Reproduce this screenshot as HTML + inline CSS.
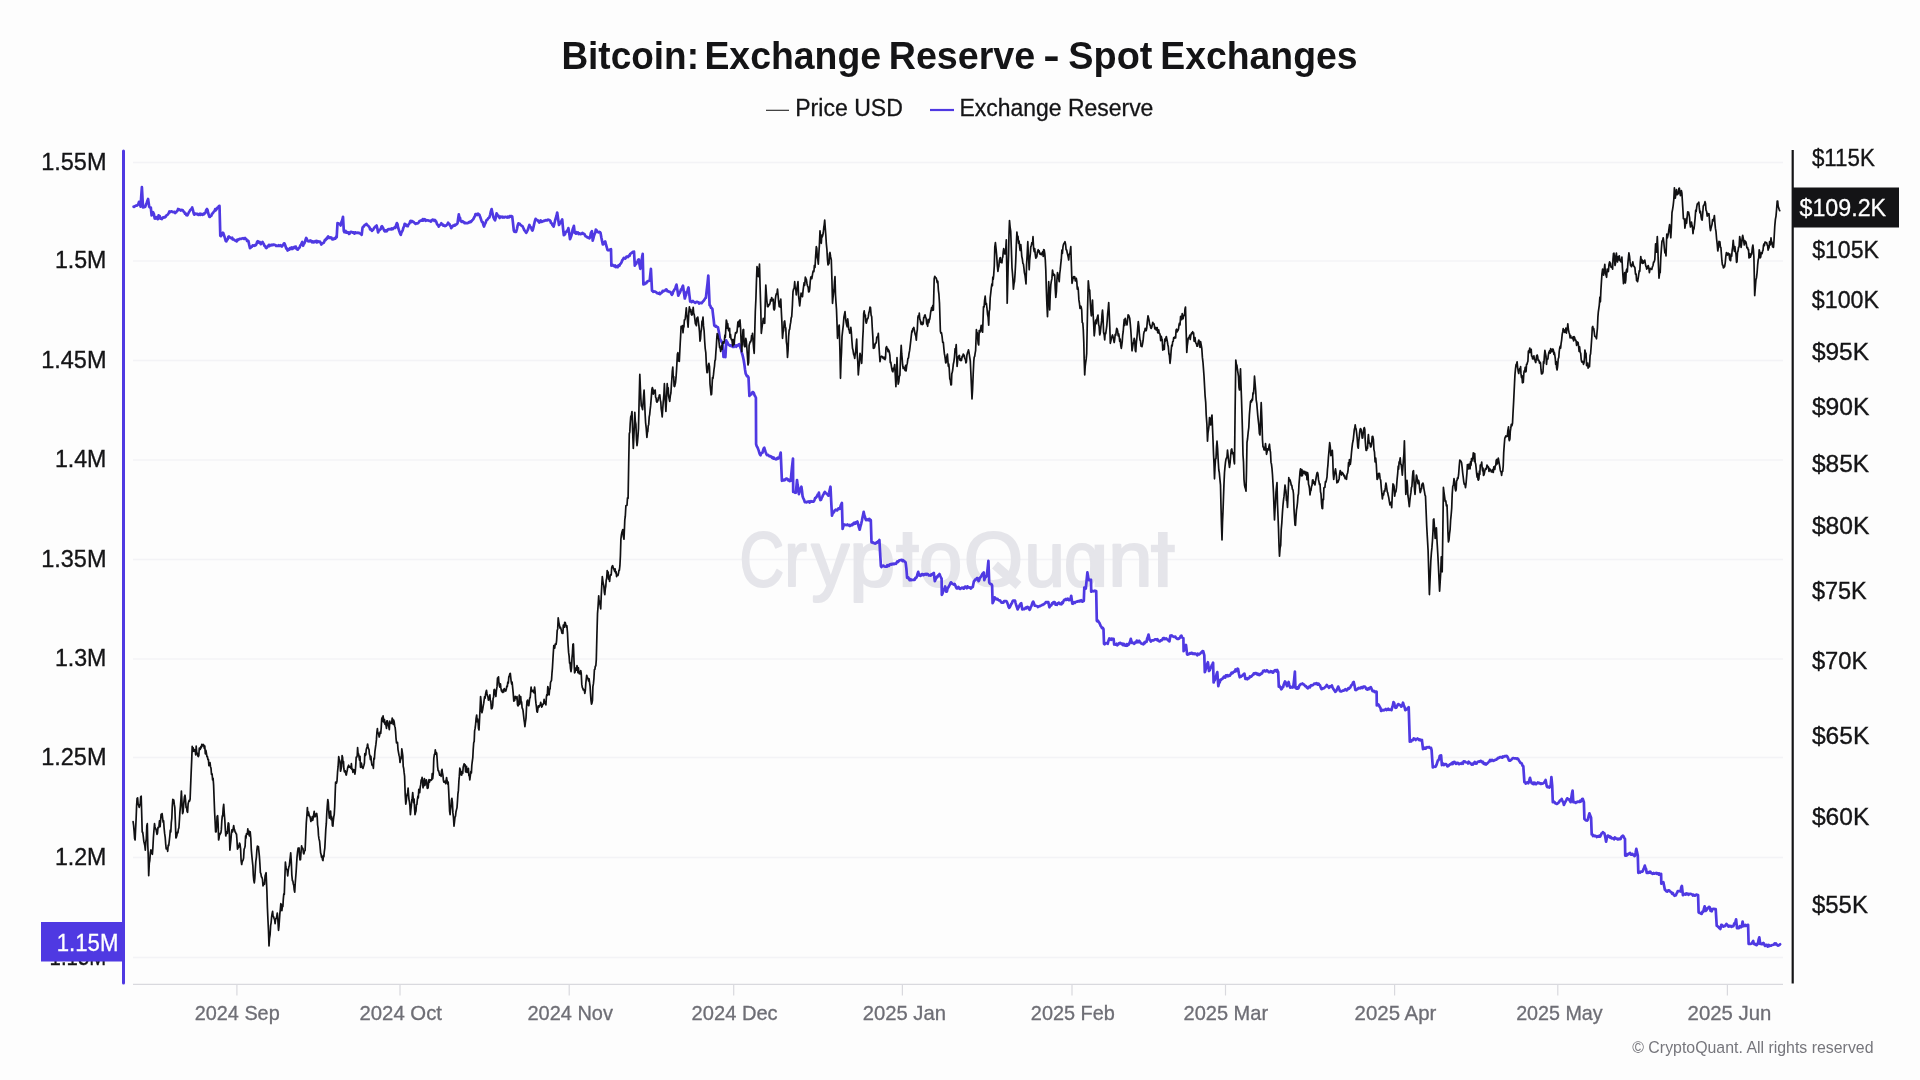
<!DOCTYPE html>
<html><head><meta charset="utf-8"><title>Bitcoin: Exchange Reserve - Spot Exchanges</title>
<style>
html,body{margin:0;padding:0;background:#fdfdfd;width:1920px;height:1080px;overflow:hidden;}
svg{display:block;font-family:"Liberation Sans",sans-serif;will-change:transform;}
</style></head><body>
<svg width="1920" height="1080" viewBox="0 0 1920 1080">
<rect x="0" y="0" width="1920" height="1080" fill="#fdfdfd"/>

<text x="561.43" y="69.1" font-size="38.2" font-weight="bold" fill="#141416" textLength="137.53" lengthAdjust="spacingAndGlyphs">Bitcoin:</text>
<text x="704.40" y="69.1" font-size="38.2" font-weight="bold" fill="#141416" textLength="176.68" lengthAdjust="spacingAndGlyphs">Exchange</text>
<text x="888.78" y="69.1" font-size="38.2" font-weight="bold" fill="#141416" textLength="146.40" lengthAdjust="spacingAndGlyphs">Reserve</text>
<text x="1043.38" y="69.1" font-size="38.2" font-weight="bold" fill="#141416" textLength="16.39" lengthAdjust="spacingAndGlyphs">-</text>
<text x="1068.31" y="69.1" font-size="38.2" font-weight="bold" fill="#141416" textLength="84.05" lengthAdjust="spacingAndGlyphs">Spot</text>
<text x="1160.30" y="69.1" font-size="38.2" font-weight="bold" fill="#141416" textLength="197.23" lengthAdjust="spacingAndGlyphs">Exchanges</text>
<line x1="766" y1="110.3" x2="789" y2="110.3" stroke="#222" stroke-width="1.1"/>
<text x="795.26" y="116.3" font-size="24.2" fill="#141416" textLength="107.59" lengthAdjust="spacingAndGlyphs" stroke="#141416" stroke-width="0.3">Price USD</text>
<line x1="930" y1="110" x2="954" y2="110" stroke="#4f39e2" stroke-width="2.2"/>
<text x="959.52" y="116.4" font-size="24.2" fill="#141416" textLength="193.85" lengthAdjust="spacingAndGlyphs" stroke="#141416" stroke-width="0.3">Exchange Reserve</text>
<line x1="133" y1="162.5" x2="1783" y2="162.5" stroke="#f3f3f6" stroke-width="1.4"/>
<line x1="133" y1="261.0" x2="1783" y2="261.0" stroke="#f3f3f6" stroke-width="1.4"/>
<line x1="133" y1="360.5" x2="1783" y2="360.5" stroke="#f3f3f6" stroke-width="1.4"/>
<line x1="133" y1="460.0" x2="1783" y2="460.0" stroke="#f3f3f6" stroke-width="1.4"/>
<line x1="133" y1="559.5" x2="1783" y2="559.5" stroke="#f3f3f6" stroke-width="1.4"/>
<line x1="133" y1="659.0" x2="1783" y2="659.0" stroke="#f3f3f6" stroke-width="1.4"/>
<line x1="133" y1="757.5" x2="1783" y2="757.5" stroke="#f3f3f6" stroke-width="1.4"/>
<line x1="133" y1="857.5" x2="1783" y2="857.5" stroke="#f3f3f6" stroke-width="1.4"/>
<line x1="133" y1="957.5" x2="1783" y2="957.5" stroke="#f3f3f6" stroke-width="1.4"/>
<defs><clipPath id="qclip" clipPathUnits="userSpaceOnUse"><rect x="900" y="500" width="200" height="87.2"/></clipPath></defs>
<g fill="#e5e5ea" stroke="#e5e5ea" stroke-width="2.2" stroke-linejoin="round">
<text x="739.56" y="586.0" font-size="77.0" textLength="44.59" lengthAdjust="spacingAndGlyphs">C</text>
<text x="784.28" y="586.0" font-size="77.0" textLength="22.64" lengthAdjust="spacingAndGlyphs">r</text>
<text x="811.42" y="586.0" font-size="77.0" textLength="37.63" lengthAdjust="spacingAndGlyphs">y</text>
<text x="849.35" y="586.0" font-size="77.0" textLength="46.13" lengthAdjust="spacingAndGlyphs">p</text>
<rect x="902.7" y="532" width="9.6" height="55.1" stroke="none"/>
<rect x="896.1" y="544.8" width="22.8" height="7.4" stroke="none"/>
<text x="919.14" y="586.0" font-size="77.0" textLength="43.23" lengthAdjust="spacingAndGlyphs">o</text>
<text x="963.91" y="586.0" font-size="77.0" textLength="58.91" lengthAdjust="spacingAndGlyphs" clip-path="url(#qclip)">Q</text>
<text x="1024.39" y="586.0" font-size="77.0" textLength="40.32" lengthAdjust="spacingAndGlyphs">u</text>
<text x="1064.23" y="586.0" font-size="77.0" textLength="35.34" lengthAdjust="spacingAndGlyphs">o</text>
<rect x="1094.6" y="544.6" width="9.5" height="42.5" stroke="none"/>
<text x="1108.32" y="586.0" font-size="77.0" textLength="44.25" lengthAdjust="spacingAndGlyphs">n</text>
<rect x="1158.0" y="532" width="9.6" height="55.1" stroke="none"/>
<rect x="1150.9" y="544.8" width="23.9" height="7.4" stroke="none"/>
<line x1="995" y1="565" x2="1018.5" y2="585.5" stroke-width="9" stroke-linecap="butt"/>
</g>
<line x1="133" y1="984.4" x2="1783" y2="984.4" stroke="#d9d9de" stroke-width="1.3"/>
<line x1="236.9" y1="985" x2="236.9" y2="995.5" stroke="#d9d9de" stroke-width="1.2"/>
<text x="194.75" y="1020.0" font-size="19.8" fill="#6e6e75" textLength="84.93" lengthAdjust="spacingAndGlyphs" stroke="#6e6e75" stroke-width="0.3">2024 Sep</text>
<line x1="400" y1="985" x2="400" y2="995.5" stroke="#d9d9de" stroke-width="1.2"/>
<text x="359.53" y="1020.0" font-size="19.8" fill="#6e6e75" textLength="82.47" lengthAdjust="spacingAndGlyphs" stroke="#6e6e75" stroke-width="0.3">2024 Oct</text>
<line x1="569.2" y1="985" x2="569.2" y2="995.5" stroke="#d9d9de" stroke-width="1.2"/>
<text x="527.45" y="1020.0" font-size="19.8" fill="#6e6e75" textLength="85.47" lengthAdjust="spacingAndGlyphs" stroke="#6e6e75" stroke-width="0.3">2024 Nov</text>
<line x1="733.7" y1="985" x2="733.7" y2="995.5" stroke="#d9d9de" stroke-width="1.2"/>
<text x="691.64" y="1020.0" font-size="19.8" fill="#6e6e75" textLength="86.04" lengthAdjust="spacingAndGlyphs" stroke="#6e6e75" stroke-width="0.3">2024 Dec</text>
<line x1="902.4" y1="985" x2="902.4" y2="995.5" stroke="#d9d9de" stroke-width="1.2"/>
<text x="862.73" y="1020.0" font-size="19.8" fill="#6e6e75" textLength="83.23" lengthAdjust="spacingAndGlyphs" stroke="#6e6e75" stroke-width="0.3">2025 Jan</text>
<line x1="1072" y1="985" x2="1072" y2="995.5" stroke="#d9d9de" stroke-width="1.2"/>
<text x="1030.85" y="1020.0" font-size="19.8" fill="#6e6e75" textLength="84.04" lengthAdjust="spacingAndGlyphs" stroke="#6e6e75" stroke-width="0.3">2025 Feb</text>
<line x1="1225.5" y1="985" x2="1225.5" y2="995.5" stroke="#d9d9de" stroke-width="1.2"/>
<text x="1183.54" y="1020.0" font-size="19.8" fill="#6e6e75" textLength="84.54" lengthAdjust="spacingAndGlyphs" stroke="#6e6e75" stroke-width="0.3">2025 Mar</text>
<line x1="1394.6" y1="985" x2="1394.6" y2="995.5" stroke="#d9d9de" stroke-width="1.2"/>
<text x="1354.64" y="1020.0" font-size="19.8" fill="#6e6e75" textLength="81.75" lengthAdjust="spacingAndGlyphs" stroke="#6e6e75" stroke-width="0.3">2025 Apr</text>
<line x1="1557.8" y1="985" x2="1557.8" y2="995.5" stroke="#d9d9de" stroke-width="1.2"/>
<text x="1516.16" y="1020.0" font-size="19.8" fill="#6e6e75" textLength="86.53" lengthAdjust="spacingAndGlyphs" stroke="#6e6e75" stroke-width="0.3">2025 May</text>
<line x1="1727.4" y1="985" x2="1727.4" y2="995.5" stroke="#d9d9de" stroke-width="1.2"/>
<text x="1687.63" y="1020.0" font-size="19.8" fill="#6e6e75" textLength="83.75" lengthAdjust="spacingAndGlyphs" stroke="#6e6e75" stroke-width="0.3">2025 Jun</text>
<text x="41.19" y="169.8" font-size="24.6" fill="#141416" textLength="65.27" lengthAdjust="spacingAndGlyphs" stroke="#141416" stroke-width="0.35">1.55M</text>
<text x="54.91" y="268.3" font-size="24.6" fill="#141416" textLength="51.52" lengthAdjust="spacingAndGlyphs" stroke="#141416" stroke-width="0.35">1.5M</text>
<text x="41.19" y="367.8" font-size="24.6" fill="#141416" textLength="65.27" lengthAdjust="spacingAndGlyphs" stroke="#141416" stroke-width="0.35">1.45M</text>
<text x="54.91" y="467.3" font-size="24.6" fill="#141416" textLength="51.52" lengthAdjust="spacingAndGlyphs" stroke="#141416" stroke-width="0.35">1.4M</text>
<text x="41.19" y="566.8" font-size="24.6" fill="#141416" textLength="65.27" lengthAdjust="spacingAndGlyphs" stroke="#141416" stroke-width="0.35">1.35M</text>
<text x="54.91" y="666.3" font-size="24.6" fill="#141416" textLength="51.52" lengthAdjust="spacingAndGlyphs" stroke="#141416" stroke-width="0.35">1.3M</text>
<text x="41.19" y="764.8" font-size="24.6" fill="#141416" textLength="65.27" lengthAdjust="spacingAndGlyphs" stroke="#141416" stroke-width="0.35">1.25M</text>
<text x="54.91" y="864.8" font-size="24.6" fill="#141416" textLength="51.52" lengthAdjust="spacingAndGlyphs" stroke="#141416" stroke-width="0.35">1.2M</text>
<text x="49.62" y="964.8" font-size="24.6" fill="#141416" textLength="56.57" lengthAdjust="spacingAndGlyphs" stroke="#141416" stroke-width="0.35">1.15M</text>
<text x="1811.94" y="166.2" font-size="24.6" fill="#141416" textLength="62.93" lengthAdjust="spacingAndGlyphs" stroke="#141416" stroke-width="0.35">$115K</text>
<text x="1812.13" y="258.4" font-size="24.6" fill="#141416" textLength="66.86" lengthAdjust="spacingAndGlyphs" stroke="#141416" stroke-width="0.35">$105K</text>
<text x="1811.83" y="307.8" font-size="24.6" fill="#141416" textLength="67.16" lengthAdjust="spacingAndGlyphs" stroke="#141416" stroke-width="0.35">$100K</text>
<text x="1811.91" y="359.8" font-size="24.6" fill="#141416" textLength="57.09" lengthAdjust="spacingAndGlyphs" stroke="#141416" stroke-width="0.35">$95K</text>
<text x="1811.91" y="414.5" font-size="24.6" fill="#141416" textLength="57.59" lengthAdjust="spacingAndGlyphs" stroke="#141416" stroke-width="0.35">$90K</text>
<text x="1811.91" y="472.4" font-size="24.6" fill="#141416" textLength="57.19" lengthAdjust="spacingAndGlyphs" stroke="#141416" stroke-width="0.35">$85K</text>
<text x="1811.91" y="533.8" font-size="24.6" fill="#141416" textLength="57.59" lengthAdjust="spacingAndGlyphs" stroke="#141416" stroke-width="0.35">$80K</text>
<text x="1811.92" y="599.2" font-size="24.6" fill="#141416" textLength="54.87" lengthAdjust="spacingAndGlyphs" stroke="#141416" stroke-width="0.35">$75K</text>
<text x="1811.92" y="669.1" font-size="24.6" fill="#141416" textLength="55.47" lengthAdjust="spacingAndGlyphs" stroke="#141416" stroke-width="0.35">$70K</text>
<text x="1811.91" y="744.2" font-size="24.6" fill="#141416" textLength="57.39" lengthAdjust="spacingAndGlyphs" stroke="#141416" stroke-width="0.35">$65K</text>
<text x="1811.91" y="825.3" font-size="24.6" fill="#141416" textLength="57.39" lengthAdjust="spacingAndGlyphs" stroke="#141416" stroke-width="0.35">$60K</text>
<text x="1811.92" y="913.4" font-size="24.6" fill="#141416" textLength="55.98" lengthAdjust="spacingAndGlyphs" stroke="#141416" stroke-width="0.35">$55K</text>
<path d="M133.6 206.7L134.2 206.9 134.9 206.2 135.6 205.8 136.2 205.6 136.8 205.7 137.5 205.2 138.3 204.1 139.0 201.9 139.8 202.8 140.6 206.7 141.2 196.8 141.9 187.2 143.0 207.5 143.8 206.8 144.5 207.1 145.3 206.7 146.0 204.4 146.7 203.1 147.4 200.7 148.1 198.9 149.2 206.7 150.0 207.6 150.8 207.5 151.6 215.3 152.3 214.5 153.1 212.2 153.9 214.1 154.7 218.4 155.3 218.6 155.9 218.3 156.6 217.2 157.2 218.3 157.8 219.2 158.6 215.3 159.2 216.4 159.8 216.2 160.4 218.7 161.0 218.4 161.7 219.0 162.3 218.3 163.0 217.4 163.6 217.7 164.3 217.1 164.9 217.3 165.6 216.9 166.2 215.6 166.9 215.2 167.5 214.7 168.1 214.1 168.8 213.0 169.4 211.4 170.0 212.2 170.6 211.5 171.3 211.4 171.9 211.4 172.5 212.0 173.1 212.1 173.8 212.0 174.4 211.8 175.0 213.0 175.6 212.3 176.2 212.2 176.9 211.1 177.5 210.7 178.1 209.0 178.7 209.4 179.4 209.4 180.0 210.0 180.6 210.5 181.2 209.8 181.9 210.2 182.5 210.0 183.1 210.6 183.8 211.9 184.4 212.2 185.0 213.6 185.6 213.4 186.3 215.0 186.9 214.6 187.5 215.3 188.2 213.8 188.8 212.5 189.5 211.4 190.2 210.0 190.9 209.4 191.5 208.9 192.2 207.5 193.0 210.4 193.8 213.8 194.4 214.7 195.0 213.5 195.6 213.5 196.2 214.1 196.9 213.9 197.5 213.8 198.1 214.9 198.7 214.9 199.4 213.9 200.0 213.6 200.6 214.8 201.2 214.2 201.9 213.9 202.5 214.8 203.1 214.5 203.8 214.4 204.4 213.1 205.1 213.2 205.7 211.7 206.3 209.9 207.0 209.0 207.6 210.2 208.2 213.2 208.8 215.0 209.4 216.9 210.1 216.9 210.7 215.8 211.4 215.7 212.0 213.8 212.7 213.3 213.3 212.4 214.0 211.4 214.6 211.1 215.2 209.1 215.8 210.3 216.4 209.5 217.1 208.2 217.7 207.5 218.3 207.3 218.9 206.0 219.5 205.9 220.3 235.6 220.9 236.1 221.5 235.3 222.2 233.3 222.8 232.7 223.4 233.3 224.0 235.3 224.6 237.0 225.2 239.1 225.8 241.1 226.4 241.3 227.0 239.4 227.7 239.4 228.3 237.0 228.9 236.4 229.6 237.5 230.2 237.4 230.9 238.1 231.5 238.4 232.2 237.7 232.8 239.5 233.5 239.5 234.1 239.6 234.8 240.5 235.4 240.6 236.1 240.5 236.7 241.4 237.3 239.6 238.0 240.1 238.7 239.7 239.3 239.0 239.9 238.8 240.6 238.8 241.2 238.9 241.9 238.5 242.5 238.5 243.1 238.2 243.8 238.8 244.4 238.9 245.1 238.0 245.7 239.0 246.4 239.2 247.1 240.9 247.7 240.5 248.4 241.1 249.2 244.9 250.0 248.1 250.7 247.7 251.3 246.9 252.0 246.7 252.7 245.3 253.4 245.6 254.0 245.5 254.7 245.8 255.3 244.8 255.9 245.1 256.6 243.7 257.2 241.7 257.8 241.1 258.4 241.9 259.0 242.6 259.7 242.0 260.3 243.2 260.9 244.2 261.7 243.3 262.5 241.9 263.1 243.0 263.8 244.0 264.4 245.9 265.1 246.1 265.8 247.7 266.4 248.1 267.2 247.3 268.0 246.1 268.8 245.0 269.4 246.2 270.0 245.0 270.6 245.5 271.2 245.4 271.9 244.7 272.5 245.2 273.1 244.6 273.8 244.7 274.4 244.8 275.0 245.0 275.6 245.0 276.2 246.0 276.9 245.8 277.5 246.0 278.1 246.0 278.8 245.2 279.4 245.9 280.0 245.8 280.6 245.2 281.2 245.8 281.9 246.5 282.5 245.7 283.1 244.9 283.8 243.6 284.4 243.4 285.0 244.6 285.6 246.5 286.3 248.7 286.9 248.4 287.5 250.5 288.1 249.8 288.8 249.1 289.4 249.5 290.0 248.2 290.6 247.8 291.2 248.8 291.9 247.5 292.5 248.9 293.1 248.0 293.8 247.3 294.4 246.9 295.1 248.1 295.7 246.6 296.4 248.4 297.0 249.3 297.7 249.7 298.4 248.7 299.0 247.8 299.7 247.3 300.3 245.4 301.0 244.7 301.6 243.3 302.3 241.9 303.1 245.8 303.7 244.1 304.4 243.3 305.0 241.7 305.6 239.5 306.2 238.0 307.0 239.5 307.8 241.1 308.4 240.9 309.0 241.4 309.6 241.0 310.2 240.4 310.8 241.4 311.4 241.0 312.1 242.4 312.7 241.3 313.3 241.6 313.9 242.4 314.5 242.1 315.1 241.2 315.7 241.8 316.3 240.9 316.9 242.4 317.5 241.2 318.1 241.4 318.8 241.9 319.4 241.7 320.0 241.6 320.6 242.8 321.3 244.5 321.9 243.4 322.5 243.5 323.1 243.0 323.8 242.8 324.4 241.3 325.0 239.8 325.6 240.1 326.2 238.6 326.9 238.8 327.5 237.3 328.1 236.4 328.8 237.8 329.4 237.8 330.1 237.3 330.8 237.8 331.5 237.6 332.1 239.2 332.8 239.5 333.4 239.3 334.1 238.3 334.8 238.8 335.4 238.6 336.1 236.7 336.7 237.2 337.5 223.1 338.1 224.0 338.7 223.4 339.4 224.0 340.0 224.3 340.6 225.5 341.4 222.1 342.2 220.2 343.0 216.9 343.8 230.9 344.4 232.2 345.1 231.3 345.7 231.0 346.4 232.7 347.1 232.6 347.7 232.1 348.4 232.5 349.0 233.9 349.6 233.6 350.2 232.3 350.8 231.8 351.5 232.1 352.1 232.2 352.7 232.7 353.3 232.3 353.9 232.3 354.5 233.6 355.1 232.3 355.7 232.3 356.3 233.0 357.0 232.8 357.6 232.7 358.2 232.9 358.8 232.7 359.4 233.3 360.2 233.6 360.9 233.8 361.7 234.8 362.5 227.8 363.1 226.7 363.8 226.5 364.4 225.4 365.1 224.9 365.8 224.7 366.4 223.9 367.0 225.0 367.6 225.4 368.2 225.7 368.8 226.5 369.5 227.4 370.1 229.4 370.7 228.9 371.3 229.9 371.9 230.9 372.6 230.0 373.2 229.7 373.9 228.2 374.6 227.5 375.3 226.6 375.9 226.4 376.6 225.5 377.4 228.8 378.1 232.5 378.8 230.8 379.4 230.3 380.1 229.5 380.7 229.1 381.4 226.8 382.0 226.2 382.8 227.4 383.6 229.2 384.4 230.9 385.0 231.4 385.6 230.3 386.2 230.4 386.8 231.2 387.4 230.3 388.0 229.3 388.6 229.2 389.2 229.4 389.9 229.0 390.5 229.3 391.1 229.5 391.7 228.5 392.3 229.0 392.9 229.2 393.5 228.1 394.1 228.0 394.7 227.3 395.3 227.8 396.1 225.2 396.9 223.1 397.5 224.2 398.2 227.9 398.9 230.0 399.5 231.9 400.1 233.6 400.8 234.8 401.4 232.6 402.1 231.6 402.8 229.9 403.4 227.7 404.1 226.2 404.7 223.9 405.3 225.2 405.9 224.5 406.6 226.0 407.2 226.1 407.8 226.2 408.4 224.6 409.1 223.9 409.7 222.8 410.4 221.0 411.0 220.8 411.7 222.0 412.3 221.1 413.0 221.6 413.6 221.9 414.3 222.7 414.9 223.3 415.6 223.9 416.3 223.3 416.9 223.4 417.6 223.4 418.3 222.9 419.0 222.0 419.6 221.0 420.3 220.8 420.9 220.7 421.6 220.2 422.2 220.5 422.8 219.1 423.4 220.5 424.1 219.7 424.7 219.2 425.3 220.4 425.9 220.8 426.6 220.2 427.2 220.3 427.8 220.3 428.4 220.5 429.0 220.7 429.6 221.0 430.2 220.7 430.8 221.6 431.4 221.2 432.0 220.1 432.6 219.7 433.2 219.8 433.8 220.1 434.4 220.9 435.0 220.0 435.6 221.1 436.2 221.6 436.9 223.7 437.5 224.7 438.1 225.1 438.8 226.6 439.4 225.6 440.0 224.8 440.6 224.7 441.3 223.2 441.9 224.2 442.5 224.3 443.2 225.5 443.9 225.2 444.5 226.0 445.1 226.1 445.8 225.8 446.6 225.0 447.3 224.4 448.1 222.7 448.7 223.8 449.4 224.0 450.0 225.6 450.6 226.1 451.2 228.1 451.9 227.2 452.5 226.2 453.1 225.5 453.8 225.8 454.4 225.0 455.0 225.6 455.6 224.5 456.3 224.6 456.9 224.0 457.5 223.4 458.1 219.0 458.8 214.4 459.4 217.5 460.0 217.8 460.6 221.1 461.2 221.3 461.9 221.8 462.5 221.1 463.1 221.9 463.8 222.1 464.4 223.2 465.0 222.7 465.6 223.1 466.3 223.1 466.9 223.1 467.6 223.1 468.2 223.0 468.9 222.1 469.6 222.4 470.3 221.5 470.9 221.9 471.6 221.1 472.2 220.3 472.9 219.6 473.6 218.7 474.2 217.2 474.9 216.4 475.5 214.1 476.1 214.4 476.8 214.1 477.4 215.0 478.1 213.7 478.8 214.3 479.4 214.8 480.1 216.9 480.7 218.3 481.4 220.5 482.0 221.9 482.7 222.1 483.3 224.8 484.0 226.6 484.8 224.2 485.6 222.9 486.4 220.3 487.0 219.9 487.6 219.4 488.3 218.1 488.9 217.8 489.5 217.2 490.2 214.5 490.9 211.4 491.6 209.1 492.5 213.3 493.4 217.2 494.2 219.1 495.0 220.3 495.8 217.6 496.6 213.3 497.2 214.4 497.8 215.5 498.5 215.8 499.1 217.2 499.7 218.0 500.3 216.7 500.9 216.7 501.6 217.1 502.2 216.7 502.8 217.5 503.4 216.9 504.1 217.6 504.7 217.0 505.3 216.8 506.0 217.0 506.6 217.3 507.2 217.6 507.8 216.6 508.5 217.4 509.1 217.4 509.7 216.1 510.3 216.6 511.0 216.0 511.6 216.1 512.2 216.4 513.0 223.1 513.8 230.5 514.5 231.7 515.3 231.9 516.1 232.0 516.9 229.1 517.6 225.8 518.4 223.4 519.0 223.6 519.7 223.8 520.3 224.7 521.0 225.3 521.6 225.8 522.3 226.0 522.9 227.1 523.6 228.5 524.3 230.3 524.9 230.6 525.6 231.9 526.2 232.8 526.9 231.7 527.5 230.5 528.1 229.1 528.8 226.7 529.4 225.0 530.0 227.0 530.6 226.9 531.3 228.0 531.9 229.8 532.5 230.5 533.1 228.7 533.7 226.1 534.4 223.0 535.0 220.7 535.6 218.8 536.2 219.7 536.9 220.0 537.5 220.0 538.1 221.1 538.8 221.9 539.4 222.6 540.0 221.2 540.6 220.3 541.2 221.2 541.8 221.9 542.4 221.6 543.0 221.3 543.6 220.9 544.2 220.5 544.8 220.8 545.4 220.3 546.1 220.1 546.7 220.5 547.3 220.4 547.9 219.7 548.5 219.8 549.1 220.0 549.7 220.3 550.4 221.0 551.0 223.0 551.7 223.2 552.3 224.8 553.0 225.6 553.6 226.6 554.2 224.4 554.8 221.8 555.4 219.4 556.0 217.4 556.6 215.5 557.2 212.5 558.1 218.8 559.0 225.0 559.6 223.2 560.3 223.4 560.9 222.3 561.6 220.6 562.2 219.5 563.0 228.1 563.8 235.2 564.4 234.8 565.1 234.1 565.7 232.1 566.4 231.9 567.1 230.5 567.7 230.5 568.4 228.1 569.2 233.0 570.0 239.1 570.6 237.7 571.3 235.8 572.0 233.1 572.6 229.5 573.2 228.1 573.9 225.8 574.7 232.8 575.4 232.9 576.0 233.6 576.7 232.1 577.3 233.0 578.0 232.5 578.6 234.0 579.2 233.4 579.9 233.6 580.5 234.1 581.2 233.7 581.9 233.8 582.5 232.8 583.1 233.6 583.8 233.8 584.4 234.0 585.0 235.4 585.7 236.3 586.3 236.5 587.0 237.2 587.6 237.2 588.2 237.8 588.9 237.9 589.5 238.3 590.3 236.0 591.1 232.4 591.9 231.2 592.7 240.6 593.3 238.7 593.9 236.1 594.6 234.0 595.2 232.9 595.8 229.7 596.5 230.2 597.1 231.6 597.8 231.8 598.5 232.3 599.2 231.9 599.8 232.0 600.5 232.8 601.3 237.3 602.0 240.6 602.8 244.5 603.4 244.2 604.0 242.3 604.6 242.1 605.2 241.4 606.0 244.7 606.7 247.0 607.5 250.0 608.2 250.3 608.9 250.1 609.6 249.9 610.3 249.5 611.0 249.2 611.4 265.6 612.0 265.3 612.6 264.8 613.3 265.7 613.9 266.0 614.5 266.4 615.1 265.4 615.7 267.1 616.4 266.5 617.0 267.1 617.6 267.2 618.2 265.6 618.8 265.2 619.4 265.8 620.0 264.2 620.7 263.6 621.3 262.7 621.9 261.4 622.5 259.8 623.1 259.4 623.8 257.9 624.4 258.0 625.1 258.6 625.8 258.0 626.5 256.5 627.1 256.5 627.8 257.0 628.4 256.3 629.0 255.5 629.6 255.8 630.2 253.9 630.8 253.6 631.5 252.9 632.1 252.6 632.7 251.9 633.4 253.0 634.0 251.6 634.8 265.6 635.5 263.7 636.1 264.1 636.8 262.2 637.4 262.0 638.1 259.8 638.8 259.4 639.5 264.5 640.3 268.8 640.9 265.1 641.5 260.9 642.1 257.1 642.7 253.9 643.4 284.4 644.0 284.0 644.7 284.1 645.3 283.0 645.9 283.3 646.5 283.0 647.2 281.5 647.8 281.1 648.4 281.2 649.1 280.8 649.7 280.5 650.9 268.8 652.0 290.6 652.6 290.8 653.2 291.9 653.9 291.4 654.5 291.5 655.1 291.6 655.7 292.0 656.4 292.4 657.0 293.1 657.6 293.2 658.2 293.4 658.8 293.7 659.5 292.8 660.1 294.1 660.7 293.0 661.3 293.0 661.9 292.5 662.6 291.0 663.2 291.5 663.8 291.1 664.4 290.6 665.1 290.6 665.7 289.7 666.3 289.3 666.9 290.1 667.5 291.3 668.2 291.5 668.8 291.3 669.4 292.0 670.0 291.9 670.7 292.3 671.3 293.9 671.9 294.8 672.6 293.8 673.2 291.5 673.9 290.6 674.5 289.3 675.2 288.9 675.8 286.5 676.5 284.6 677.4 290.1 678.3 295.7 679.0 293.9 679.6 293.1 680.3 291.6 681.0 289.3 681.7 289.5 682.3 287.0 683.0 285.6 683.9 292.2 684.8 298.5 685.4 296.5 686.0 295.2 686.6 291.8 687.3 292.2 687.9 289.0 688.5 287.4 689.4 295.1 690.2 301.5 690.9 301.1 691.5 302.1 692.2 301.5 692.8 301.0 693.5 301.8 694.1 302.1 694.8 302.4 695.4 302.9 696.0 302.3 696.6 301.8 697.3 301.9 697.9 302.2 698.5 302.4 699.1 303.5 699.7 303.0 700.4 302.8 701.0 303.1 701.6 303.2 702.2 302.4 702.8 301.8 703.4 301.0 704.0 300.3 704.7 299.2 705.3 298.1 705.9 297.8 706.7 290.4 707.5 283.7 708.3 275.6 709.0 290.8 709.6 305.2 710.3 305.6 711.0 307.9 711.7 307.9 712.4 308.9 713.0 314.4 713.7 320.0 714.3 325.6 714.9 325.7 715.5 326.6 716.1 326.0 716.8 326.8 717.4 327.2 718.0 327.4 718.9 332.3 719.8 338.5 720.5 340.1 721.2 340.8 721.9 342.7 722.6 344.0 723.5 357.0 724.1 356.4 724.8 356.8 725.4 357.0 726.3 340.4 726.9 342.0 727.5 342.4 728.1 344.1 728.7 344.7 729.3 345.1 730.0 345.8 730.6 345.4 731.2 345.4 731.8 346.2 732.5 346.7 733.1 347.0 733.7 346.9 734.3 346.0 734.9 345.4 735.6 345.5 736.2 346.8 736.8 345.5 737.4 345.8 738.1 345.5 738.7 344.4 739.3 344.1 739.9 345.9 740.5 347.9 741.1 349.3 741.8 352.6 742.4 354.6 743.0 357.0 743.7 360.2 744.4 364.5 745.0 369.4 745.7 373.7 746.4 375.0 747.1 376.3 747.8 376.2 748.5 377.4 749.4 395.9 750.0 395.0 750.6 394.4 751.2 394.5 751.9 393.2 752.5 392.1 753.1 392.2 753.8 392.9 754.5 395.2 755.2 396.3 755.9 397.8 756.1 444.1 756.7 446.1 757.4 447.3 758.0 448.6 758.7 450.6 759.3 452.7 760.0 454.6 760.6 455.2 761.2 453.3 761.8 453.0 762.5 452.8 763.1 450.3 763.7 448.4 764.3 447.8 765.0 450.1 765.6 452.0 766.3 453.8 767.0 455.2 767.6 455.0 768.2 454.9 768.8 455.6 769.4 456.2 770.0 456.3 770.7 456.2 771.3 456.8 772.0 457.9 772.6 457.3 773.3 458.6 773.9 457.7 774.6 458.8 775.2 459.0 775.9 459.3 776.5 459.2 777.1 458.3 777.8 457.6 778.4 458.5 779.0 457.7 779.6 457.0 780.7 452.6 781.9 480.8 782.5 480.3 783.2 479.9 783.8 480.4 784.4 479.6 785.0 480.0 785.7 479.1 786.3 478.5 786.9 478.6 787.6 479.3 788.2 480.4 788.8 479.8 789.4 481.0 790.1 480.5 790.7 480.8 791.9 468.2 793.0 458.5 793.2 491.9 793.9 491.9 794.5 492.0 795.2 492.8 795.9 492.6 797.0 480.0 797.6 484.8 798.3 488.6 798.9 494.1 799.5 491.7 800.1 489.5 800.8 488.3 801.4 486.7 802.0 491.0 802.6 496.3 803.3 498.2 804.1 499.9 804.8 502.2 805.4 502.2 806.0 502.0 806.6 502.4 807.3 501.7 807.9 502.0 808.5 501.5 809.1 501.4 809.7 502.5 810.3 501.7 810.9 501.1 811.5 501.6 812.1 501.7 812.7 501.4 813.3 501.7 813.9 501.3 814.5 500.0 815.1 498.1 815.8 497.9 816.4 496.9 817.0 496.4 817.6 494.7 818.3 494.6 818.9 492.6 819.6 497.5 820.4 500.0 821.0 499.7 821.7 497.9 822.3 496.8 822.9 495.4 823.5 494.4 824.2 492.9 824.8 491.9 825.4 492.7 826.0 493.3 826.6 493.8 827.3 493.8 827.9 495.1 828.5 495.6 829.2 492.6 829.8 489.5 830.5 486.7 831.2 501.4 832.0 515.6 832.6 513.6 833.3 512.9 833.9 512.2 834.6 510.6 835.2 510.4 835.8 509.6 836.5 510.3 837.1 510.5 837.8 509.5 838.4 508.4 839.1 508.8 839.7 508.9 840.4 506.6 841.2 504.3 841.9 503.0 842.6 528.9 843.4 526.2 844.1 524.5 844.8 524.9 845.4 524.8 846.1 525.1 846.7 525.0 847.4 524.5 848.0 525.2 848.7 525.4 849.3 525.0 850.0 526.0 850.6 525.2 851.2 525.3 851.9 524.5 852.5 525.0 853.1 523.9 853.7 522.9 854.3 523.8 854.9 522.6 855.5 523.6 856.2 522.0 856.8 522.0 857.4 521.5 858.2 524.4 858.9 527.4 859.7 529.7 860.4 526.5 861.2 523.8 861.9 520.8 862.5 517.5 863.1 514.7 863.7 511.9 864.3 515.1 865.0 516.9 865.6 519.3 866.2 520.0 866.9 519.6 867.5 520.0 868.2 519.3 868.9 520.3 869.5 519.0 870.1 519.5 870.8 520.0 871.5 542.3 872.1 542.4 872.7 542.2 873.4 543.0 874.0 543.1 874.6 543.0 875.2 543.7 875.9 543.3 876.6 542.3 877.3 542.7 878.0 541.3 878.7 541.5 879.4 540.0 880.1 552.6 880.9 566.0 881.5 567.0 882.2 566.1 882.8 565.8 883.5 565.6 884.1 566.3 884.8 566.6 885.4 566.6 886.0 566.6 886.7 566.7 887.3 565.2 888.0 566.0 888.6 565.2 889.2 565.7 889.8 564.5 890.5 564.1 891.1 564.5 891.7 563.8 892.3 563.9 892.9 564.3 893.5 563.7 894.1 564.1 894.8 563.6 895.4 563.5 896.0 563.8 896.6 562.7 897.3 561.4 898.0 562.0 898.6 561.4 899.2 560.3 899.9 560.3 900.6 560.1 901.2 560.0 901.8 559.9 902.5 561.2 903.1 560.1 903.7 561.0 904.3 561.0 905.0 562.1 905.6 562.3 906.4 568.8 907.1 577.8 907.8 578.2 908.4 577.5 909.0 579.1 909.7 580.2 910.4 579.2 911.0 580.2 911.6 579.9 912.3 580.0 912.9 579.9 913.6 579.7 914.2 579.8 914.8 579.7 915.4 577.8 916.1 578.0 916.7 577.1 917.5 574.0 918.2 571.9 919.2 575.5 919.8 574.7 920.5 575.8 921.1 575.4 921.8 574.2 922.4 574.1 923.0 575.2 923.7 575.1 924.3 574.1 924.9 574.6 925.6 574.0 926.2 574.7 926.9 573.9 927.5 574.0 928.1 574.2 928.8 575.5 929.5 575.3 930.1 575.5 930.7 575.6 931.3 574.4 931.9 574.6 932.5 574.2 933.1 573.5 933.8 572.9 934.8 581.2 935.5 579.5 936.2 578.4 936.9 576.6 937.5 577.0 938.2 575.4 938.9 574.9 939.5 574.0 940.2 575.8 940.9 577.3 941.6 578.6 941.8 594.8 942.5 593.5 943.2 591.4 943.8 589.6 944.5 588.7 945.2 586.5 946.2 591.7 946.9 591.5 947.6 588.5 948.2 587.6 948.9 586.5 949.6 585.0 950.2 583.7 950.9 582.3 951.5 582.8 952.2 583.6 952.9 584.1 953.5 584.4 954.1 584.7 954.7 584.0 955.3 585.3 955.9 587.0 956.5 588.2 957.1 588.5 957.8 588.1 958.4 587.0 959.0 587.5 959.6 588.8 960.2 589.0 960.8 588.5 961.4 588.1 962.0 587.7 962.6 588.1 963.2 587.7 963.8 588.7 964.5 587.5 965.1 586.6 965.7 586.8 966.3 587.4 966.9 588.2 967.5 586.4 968.1 587.5 968.8 587.4 969.4 587.7 970.1 587.3 970.8 588.5 971.5 587.9 972.1 587.3 972.8 587.0 973.9 581.2 974.5 580.9 975.1 579.7 975.7 579.6 976.3 579.3 976.9 578.0 977.5 578.1 978.5 581.2 979.2 580.2 979.8 578.1 980.5 577.2 981.1 576.6 981.8 575.0 982.4 573.8 983.1 573.2 983.8 572.4 984.3 580.2 984.9 578.2 985.6 577.4 986.2 576.6 986.9 575.0 987.6 569.0 988.4 560.9 989.2 582.3 989.9 583.7 990.7 584.2 991.4 584.1 992.1 585.4 992.6 603.1 993.3 601.8 994.0 600.2 994.7 597.4 995.5 598.2 996.2 599.0 996.9 599.4 997.6 599.0 998.2 599.9 998.9 600.3 999.5 600.3 1000.2 600.5 1000.8 601.8 1001.5 602.6 1002.1 602.5 1002.8 602.7 1003.5 602.4 1004.1 601.1 1004.8 601.1 1005.4 601.0 1006.1 601.1 1006.7 601.6 1007.4 603.1 1008.0 604.9 1008.6 606.9 1009.3 607.8 1009.9 607.0 1010.5 605.7 1011.2 603.9 1011.8 603.5 1012.4 601.6 1013.0 600.7 1013.7 600.8 1014.4 600.5 1015.0 600.5 1015.6 603.0 1016.3 605.6 1017.0 607.4 1017.6 609.4 1018.2 608.1 1018.8 607.3 1019.4 605.7 1020.0 604.5 1020.6 603.7 1021.2 603.1 1022.3 609.4 1022.9 608.9 1023.6 608.9 1024.2 609.1 1024.9 608.5 1025.5 607.7 1026.2 608.3 1026.8 607.2 1027.5 606.8 1028.2 607.3 1028.9 608.7 1029.6 609.9 1030.2 608.9 1030.8 606.9 1031.4 606.2 1032.0 604.1 1032.6 602.5 1033.2 601.6 1034.0 603.6 1034.8 605.7 1035.5 605.6 1036.1 606.0 1036.8 606.0 1037.4 606.4 1038.0 607.1 1038.7 606.5 1039.3 606.2 1040.0 606.2 1040.7 605.7 1041.3 605.4 1042.0 605.0 1042.6 605.0 1043.2 604.3 1043.9 604.2 1044.5 603.6 1045.2 603.1 1045.8 602.1 1046.4 602.3 1047.1 602.2 1047.7 602.2 1048.3 602.1 1049.4 607.3 1050.1 606.1 1050.7 605.4 1051.3 605.4 1052.0 603.4 1052.7 603.8 1053.3 602.3 1053.9 602.2 1054.6 602.1 1055.6 604.7 1056.2 604.2 1056.9 604.8 1057.5 603.4 1058.2 603.6 1058.8 602.6 1059.5 603.1 1060.1 604.1 1060.8 603.6 1061.5 604.3 1062.1 602.5 1062.8 603.0 1063.4 601.3 1064.0 600.2 1064.7 599.6 1065.3 599.8 1066.0 599.0 1066.6 599.9 1067.2 599.6 1067.8 598.7 1068.4 599.9 1069.0 600.2 1069.6 600.0 1070.2 600.0 1071.2 595.8 1072.3 603.6 1073.0 603.8 1073.6 602.5 1074.2 602.1 1074.9 602.9 1075.5 602.3 1076.2 601.7 1076.8 601.7 1077.5 601.6 1078.1 601.0 1078.8 601.3 1079.4 601.5 1080.0 600.6 1080.6 601.0 1081.2 600.3 1081.9 601.5 1082.5 601.7 1083.1 601.2 1083.8 601.0 1084.3 587.5 1085.0 588.0 1085.8 588.5 1086.6 580.3 1087.4 572.4 1088.2 577.6 1089.0 580.2 1089.7 579.9 1090.3 580.5 1091.0 579.7 1091.2 591.7 1091.8 591.1 1092.5 590.8 1093.1 591.3 1093.7 591.0 1094.4 591.1 1095.0 590.6 1095.6 591.2 1096.2 591.1 1096.8 620.8 1097.5 621.3 1098.1 620.8 1098.8 622.2 1099.4 622.9 1100.1 624.5 1100.7 625.9 1101.3 626.7 1102.0 628.1 1102.8 627.8 1103.5 629.2 1104.0 643.8 1104.6 644.4 1105.2 643.8 1105.8 643.1 1106.5 643.1 1107.1 643.3 1107.7 643.8 1108.5 640.7 1109.3 638.5 1109.9 639.1 1110.5 638.8 1111.1 639.9 1111.7 638.6 1112.3 639.3 1112.9 639.1 1113.6 638.8 1114.2 644.5 1114.8 644.4 1115.4 644.6 1116.1 644.6 1116.7 643.8 1117.3 645.3 1117.9 644.2 1118.5 644.3 1119.2 643.0 1119.8 643.1 1120.4 642.9 1121.1 643.7 1121.8 644.4 1122.5 643.6 1123.2 645.1 1123.9 643.9 1124.6 645.5 1125.3 645.6 1126.0 645.8 1126.7 644.2 1127.4 645.6 1128.1 644.1 1128.8 644.5 1129.4 643.4 1130.1 641.6 1130.8 638.8 1131.9 642.9 1132.5 642.5 1133.1 643.1 1133.7 643.1 1134.3 643.8 1134.9 642.8 1135.6 642.0 1136.2 642.4 1136.8 640.6 1137.4 641.6 1138.0 642.2 1138.6 641.6 1139.2 640.8 1139.8 641.8 1140.4 642.5 1141.1 643.5 1141.7 643.6 1142.3 644.0 1142.9 643.6 1143.5 644.3 1144.1 642.6 1144.7 643.2 1145.3 641.8 1145.9 641.6 1146.5 641.9 1147.2 638.3 1147.8 637.1 1148.5 634.6 1149.6 639.8 1150.3 640.7 1151.0 641.5 1151.7 640.6 1152.4 640.3 1153.1 640.4 1153.8 640.3 1154.4 639.8 1155.0 639.4 1155.6 639.3 1156.2 639.4 1156.9 640.1 1157.5 639.3 1158.1 640.7 1158.8 641.1 1159.4 641.4 1160.0 641.4 1160.6 640.4 1161.2 640.2 1161.8 640.4 1162.4 639.8 1163.0 638.3 1163.6 638.1 1164.2 638.2 1164.9 639.1 1165.5 638.7 1166.2 638.4 1166.8 639.2 1167.5 639.5 1168.1 640.0 1168.8 641.1 1169.4 641.4 1170.4 635.6 1171.1 635.9 1171.8 635.5 1172.5 636.2 1173.2 636.5 1173.9 636.9 1174.6 636.7 1175.3 636.5 1176.0 637.9 1176.7 638.4 1177.4 639.0 1178.1 638.7 1178.8 638.8 1179.4 638.2 1180.1 637.6 1180.7 636.1 1181.4 635.6 1182.1 637.4 1182.7 637.8 1183.4 638.2 1183.6 651.2 1184.2 649.8 1184.8 648.2 1185.4 646.5 1186.0 645.0 1187.1 654.4 1187.8 654.6 1188.5 654.3 1189.2 653.8 1189.9 653.1 1190.6 653.5 1191.2 652.8 1191.9 652.9 1192.5 653.8 1193.1 653.3 1193.7 653.8 1194.3 654.1 1194.9 653.5 1195.5 653.8 1196.1 654.4 1196.7 654.2 1197.3 655.3 1197.9 653.7 1198.5 654.4 1199.2 654.5 1199.8 653.7 1200.5 653.4 1201.2 652.3 1201.9 652.4 1202.5 651.0 1203.2 651.2 1204.3 655.4 1204.8 672.1 1205.4 670.7 1206.0 668.5 1206.7 666.3 1207.3 663.8 1207.9 662.2 1209.0 671.0 1209.7 670.2 1210.4 668.2 1211.0 667.5 1211.7 665.4 1212.4 664.1 1213.1 662.7 1213.6 682.5 1214.2 680.6 1214.8 680.1 1215.4 677.6 1216.1 676.0 1216.7 673.8 1217.3 672.1 1218.3 686.1 1219.0 683.2 1219.7 682.3 1220.4 679.9 1221.1 679.8 1221.8 678.8 1222.5 678.9 1223.2 677.8 1223.9 676.7 1224.6 676.8 1225.2 677.7 1225.9 675.3 1226.5 675.6 1227.2 676.2 1227.8 675.2 1228.5 676.2 1229.1 675.7 1229.8 675.7 1230.4 674.8 1231.1 673.5 1231.7 672.6 1232.4 673.3 1233.0 672.7 1233.6 671.9 1234.3 671.5 1234.9 671.6 1235.5 669.5 1236.2 671.0 1236.8 670.3 1237.5 668.7 1238.1 669.0 1238.9 673.7 1239.7 677.3 1240.4 676.6 1241.0 676.7 1241.7 675.8 1242.4 675.6 1243.1 675.0 1243.7 674.1 1244.4 673.6 1245.4 678.9 1246.1 678.1 1246.7 678.7 1247.3 679.3 1248.0 678.2 1248.7 678.4 1249.3 678.0 1249.9 676.5 1250.6 676.8 1251.2 676.6 1251.9 675.8 1252.5 675.1 1253.2 674.6 1253.8 673.3 1254.5 674.0 1255.1 673.2 1255.8 673.1 1256.4 673.3 1257.0 674.4 1257.6 673.6 1258.2 674.8 1258.8 674.2 1259.4 675.0 1260.0 674.7 1260.6 673.7 1261.2 674.0 1261.9 673.5 1262.5 672.4 1263.1 671.0 1263.7 671.2 1264.4 670.4 1265.0 671.3 1265.6 671.5 1266.2 670.8 1266.9 670.2 1267.5 670.7 1268.1 671.5 1268.8 672.1 1269.4 672.1 1270.0 672.1 1270.6 671.2 1271.3 671.9 1271.9 671.5 1272.5 672.6 1273.2 672.6 1273.8 671.6 1274.5 670.6 1275.2 670.1 1275.9 670.6 1276.5 671.5 1277.2 670.0 1278.2 672.1 1278.8 686.7 1279.4 685.7 1280.0 687.4 1280.6 687.2 1281.3 689.3 1281.9 688.8 1282.5 687.4 1283.1 687.1 1283.8 684.4 1284.4 682.9 1285.0 681.5 1285.7 682.3 1286.4 684.6 1287.1 686.1 1287.8 684.1 1288.6 682.0 1289.4 685.1 1290.2 687.7 1290.8 686.9 1291.4 687.3 1292.1 687.0 1292.7 687.6 1293.3 686.7 1294.1 679.8 1294.9 671.6 1295.4 687.7 1296.0 688.2 1296.6 688.5 1297.3 687.4 1297.9 688.5 1298.5 688.2 1299.2 685.8 1299.9 685.0 1300.6 684.1 1301.2 684.2 1301.8 684.0 1302.4 683.5 1303.0 684.0 1303.6 684.7 1304.2 684.6 1304.8 685.6 1305.4 686.2 1306.0 686.1 1306.7 687.5 1307.3 687.9 1307.9 688.3 1308.6 687.1 1309.2 686.7 1309.9 687.3 1310.6 685.9 1311.2 685.1 1311.9 685.5 1312.6 685.2 1313.2 684.9 1313.9 683.9 1314.5 683.7 1315.2 683.6 1315.8 684.0 1316.5 683.2 1317.2 683.7 1317.9 684.7 1318.6 683.6 1319.3 684.9 1320.0 685.4 1320.8 687.7 1321.5 689.1 1322.2 688.9 1322.9 688.2 1323.5 688.5 1324.2 687.9 1324.8 687.5 1325.5 686.8 1326.1 686.3 1326.8 684.9 1327.6 686.1 1328.3 686.9 1329.1 687.8 1329.8 686.4 1330.5 686.3 1331.2 686.6 1331.9 685.5 1332.6 687.6 1333.3 688.8 1334.0 689.7 1334.7 690.9 1335.4 691.8 1336.1 691.2 1336.8 689.9 1337.5 688.3 1338.2 686.6 1339.1 688.8 1340.0 691.2 1340.7 691.3 1341.4 691.5 1342.1 690.9 1342.8 690.6 1343.4 690.6 1344.1 690.4 1344.7 689.7 1345.3 689.2 1345.9 689.9 1346.6 690.4 1347.2 689.3 1347.8 689.4 1348.4 688.1 1349.1 688.5 1349.7 687.8 1350.4 687.3 1351.0 685.8 1351.7 684.9 1352.4 684.3 1353.0 682.6 1353.7 682.0 1354.6 685.9 1355.4 690.0 1356.1 690.1 1356.7 689.5 1357.4 689.1 1358.0 688.6 1358.7 687.8 1359.3 688.2 1360.0 688.3 1360.7 688.2 1361.3 687.1 1362.0 687.7 1362.7 688.0 1363.3 686.7 1364.0 686.6 1364.7 686.5 1365.5 687.4 1366.2 689.0 1366.9 689.5 1367.6 689.6 1368.2 688.4 1368.9 689.0 1369.6 687.8 1370.2 687.7 1370.9 687.2 1371.8 689.4 1372.6 691.2 1373.3 691.2 1373.9 690.9 1374.6 692.1 1375.3 691.8 1375.9 691.5 1376.6 691.8 1376.8 705.5 1377.5 704.7 1378.3 704.4 1379.0 705.3 1379.7 706.9 1380.4 707.8 1381.1 711.0 1381.8 710.7 1382.5 709.9 1383.2 710.2 1383.8 710.3 1384.5 709.8 1385.2 709.5 1385.8 709.0 1386.5 710.1 1387.1 709.8 1387.7 709.4 1388.3 708.7 1389.0 709.8 1389.6 709.7 1390.2 709.7 1390.9 709.6 1391.5 710.1 1392.2 707.3 1392.8 705.8 1393.5 702.1 1394.2 703.0 1394.8 706.4 1395.5 707.8 1396.3 707.6 1397.0 706.3 1397.8 704.4 1398.5 704.1 1399.2 705.0 1399.9 704.9 1400.6 705.6 1401.3 706.7 1402.2 705.5 1403.0 702.7 1403.8 705.2 1404.5 706.9 1405.3 710.1 1406.0 709.6 1406.7 709.4 1407.3 708.6 1408.0 707.9 1408.7 707.2 1409.8 741.6 1410.5 741.5 1411.1 741.5 1411.8 740.2 1412.4 739.9 1413.0 740.1 1413.7 738.4 1414.3 738.9 1415.0 738.8 1415.6 740.0 1416.3 739.2 1416.9 739.0 1417.5 738.5 1418.1 739.0 1418.8 739.6 1419.4 740.1 1420.0 739.4 1420.6 740.3 1421.3 740.4 1421.9 739.9 1423.0 749.1 1423.7 748.3 1424.3 748.7 1425.0 747.6 1425.6 748.7 1426.3 747.7 1426.9 747.2 1427.6 747.3 1428.3 747.5 1429.0 747.0 1429.6 747.8 1430.3 748.1 1431.0 747.9 1431.6 750.2 1432.2 759.0 1432.8 767.4 1433.5 767.1 1434.2 766.8 1434.9 766.6 1435.6 766.8 1436.4 765.1 1437.1 763.0 1437.9 760.5 1438.5 760.2 1439.2 758.6 1439.8 755.9 1440.5 755.5 1441.1 755.4 1441.9 765.1 1442.6 764.5 1443.2 763.7 1443.9 765.1 1444.6 764.3 1445.2 764.2 1445.9 764.0 1446.7 764.9 1447.4 766.3 1448.2 766.2 1448.8 765.5 1449.5 764.6 1450.1 764.3 1450.8 764.5 1451.4 763.3 1452.1 762.8 1452.7 764.0 1453.4 762.1 1454.0 762.8 1454.6 761.9 1455.3 762.9 1455.9 763.8 1456.6 762.9 1457.2 763.0 1457.9 762.8 1458.5 764.0 1459.1 764.2 1459.8 763.6 1460.4 763.5 1461.1 763.8 1461.7 762.8 1462.4 763.0 1463.0 763.7 1463.7 761.4 1464.3 761.7 1464.9 761.4 1465.6 762.0 1466.2 762.4 1466.8 762.5 1467.5 762.6 1468.1 763.5 1468.7 761.7 1469.4 762.7 1470.0 762.8 1470.7 763.5 1471.5 764.5 1472.2 764.1 1472.9 764.5 1473.5 763.2 1474.1 763.5 1474.8 762.0 1475.4 763.5 1476.0 763.7 1476.6 763.5 1477.2 762.4 1477.8 761.8 1478.5 761.6 1479.1 761.8 1479.7 761.5 1480.3 761.1 1480.9 760.9 1481.6 762.1 1482.2 762.3 1482.8 761.7 1483.5 763.6 1484.1 762.9 1484.7 764.2 1485.4 763.5 1486.0 764.5 1486.7 764.0 1487.4 763.3 1488.1 762.6 1488.8 761.8 1489.5 761.1 1490.1 760.0 1490.7 761.1 1491.3 760.4 1492.0 759.8 1492.6 760.4 1493.2 760.8 1493.8 760.7 1494.4 760.2 1495.0 760.1 1495.7 759.7 1496.3 759.7 1496.9 758.9 1497.5 758.8 1498.1 757.8 1498.7 757.9 1499.3 757.7 1500.0 757.0 1500.6 757.1 1501.2 757.0 1501.8 757.7 1502.4 757.6 1503.0 756.5 1503.6 756.9 1504.2 756.4 1504.9 756.1 1505.5 756.0 1506.1 756.4 1506.7 755.9 1507.5 756.9 1508.2 758.4 1509.0 760.5 1509.6 760.7 1510.3 760.6 1510.9 760.0 1511.6 759.5 1512.2 758.6 1512.9 758.2 1513.5 758.2 1514.2 758.3 1514.8 758.3 1515.5 758.4 1516.1 758.3 1516.8 758.8 1517.4 758.4 1518.1 758.8 1518.9 760.4 1519.6 761.4 1520.4 762.8 1521.1 762.8 1521.8 763.7 1522.6 765.8 1523.3 766.2 1524.4 782.2 1525.1 782.4 1525.7 783.5 1526.3 783.2 1527.0 782.4 1527.7 782.7 1528.3 783.3 1529.2 780.7 1530.0 777.8 1530.8 781.1 1531.7 783.3 1532.3 783.5 1532.9 783.9 1533.5 782.7 1534.1 784.1 1534.8 782.6 1535.4 783.7 1536.0 784.2 1536.6 783.3 1537.2 783.3 1537.8 782.5 1538.4 783.2 1539.0 782.8 1539.6 783.0 1540.2 783.7 1540.9 784.0 1541.5 783.3 1542.1 783.7 1542.7 783.5 1543.3 783.2 1543.9 782.8 1544.8 781.6 1545.6 780.0 1546.7 786.1 1547.3 787.2 1548.0 787.0 1548.7 786.7 1549.3 787.6 1549.9 786.4 1550.6 786.7 1551.4 777.2 1552.2 785.6 1552.8 802.2 1553.4 801.1 1554.1 802.0 1554.7 802.3 1555.3 803.3 1555.9 803.3 1556.6 803.8 1557.2 803.9 1557.8 803.3 1558.5 802.6 1559.1 802.1 1559.8 800.7 1560.4 800.1 1561.1 800.1 1561.7 798.9 1562.4 801.1 1563.2 802.0 1563.9 805.0 1564.6 803.5 1565.2 802.2 1565.9 800.8 1566.5 799.7 1567.2 798.3 1567.9 798.8 1568.6 799.5 1569.2 799.4 1569.9 800.9 1570.6 802.2 1571.3 797.9 1571.9 793.9 1572.6 790.6 1573.3 802.2 1573.9 801.7 1574.5 802.0 1575.1 802.4 1575.7 802.9 1576.3 802.0 1577.0 802.1 1577.6 801.6 1578.2 801.6 1578.8 801.9 1579.4 802.0 1580.1 800.7 1580.8 801.5 1581.4 800.8 1582.1 799.1 1582.8 798.9 1583.9 802.2 1584.4 818.9 1585.1 819.5 1585.8 820.2 1586.5 820.5 1587.2 820.6 1587.9 819.5 1588.7 815.9 1589.4 813.3 1590.2 815.4 1591.1 817.8 1591.7 834.4 1592.4 834.4 1593.0 836.0 1593.7 835.4 1594.3 836.0 1595.0 835.6 1595.6 836.2 1596.2 836.2 1596.9 837.0 1597.5 836.6 1598.1 836.1 1598.8 836.5 1599.4 835.7 1600.0 836.7 1600.7 835.6 1601.5 833.6 1602.2 833.3 1602.9 832.1 1603.7 832.9 1604.4 833.3 1605.2 836.7 1606.1 841.7 1606.9 837.9 1607.8 835.6 1608.4 835.8 1609.0 836.6 1609.7 836.3 1610.3 837.6 1610.9 836.9 1611.5 838.2 1612.2 838.5 1612.8 838.3 1613.5 838.4 1614.1 839.3 1614.8 837.5 1615.4 837.8 1616.0 838.6 1616.7 838.9 1617.3 838.6 1618.0 839.5 1618.6 838.9 1619.3 838.6 1619.9 839.1 1620.6 838.9 1621.4 837.0 1622.2 836.1 1622.9 835.7 1623.6 836.5 1624.3 837.9 1625.0 838.9 1625.2 855.6 1625.8 855.7 1626.4 854.0 1627.0 855.3 1627.6 854.8 1628.2 854.1 1628.8 853.5 1629.4 853.3 1630.0 853.0 1630.6 854.4 1631.3 854.7 1631.9 853.9 1632.5 853.9 1633.1 854.9 1633.8 855.1 1634.4 856.1 1635.0 855.6 1635.7 852.2 1636.3 848.9 1637.0 851.9 1637.8 855.6 1638.3 872.8 1638.9 872.4 1639.6 872.2 1640.2 872.6 1640.9 871.5 1641.5 871.6 1642.2 871.7 1642.8 871.1 1643.5 869.0 1644.1 867.8 1644.8 865.6 1645.4 867.8 1646.1 869.2 1646.7 872.8 1647.3 872.9 1648.0 873.0 1648.6 872.1 1649.3 872.6 1649.9 871.7 1650.5 871.8 1651.2 873.1 1651.8 873.0 1652.4 873.8 1653.1 873.7 1653.7 873.0 1654.4 873.7 1655.0 873.3 1655.6 873.3 1656.2 873.0 1656.8 873.7 1657.4 873.2 1658.0 873.4 1658.7 874.6 1659.3 873.4 1659.9 874.8 1660.5 874.7 1661.1 873.9 1661.3 883.6 1662.0 883.1 1662.7 882.7 1663.4 882.2 1664.1 885.7 1664.8 889.6 1665.4 889.8 1666.1 891.1 1666.7 891.5 1667.4 891.7 1668.1 890.4 1668.7 890.4 1669.4 890.6 1670.1 891.5 1670.8 891.9 1671.5 892.5 1672.2 893.8 1672.8 893.0 1673.4 894.1 1674.1 895.3 1674.7 895.9 1675.3 895.1 1675.9 895.2 1676.5 893.6 1677.2 892.5 1677.8 891.0 1678.5 891.1 1679.2 891.2 1679.9 891.0 1680.6 891.5 1681.2 887.4 1681.9 885.9 1682.9 895.2 1683.7 894.5 1684.4 894.5 1685.2 893.8 1685.9 894.6 1686.5 893.5 1687.2 894.0 1687.8 893.6 1688.5 894.9 1689.1 894.3 1689.8 893.9 1690.4 893.9 1691.0 894.0 1691.7 894.3 1692.3 894.7 1693.0 895.5 1693.6 894.8 1694.3 895.4 1694.9 895.6 1695.5 895.4 1696.2 894.7 1696.8 894.6 1697.5 895.3 1698.1 895.2 1698.6 912.3 1699.4 912.9 1700.1 912.8 1700.9 913.7 1701.7 913.9 1702.4 911.7 1703.2 911.9 1703.9 908.8 1704.6 906.3 1705.6 910.9 1706.2 910.4 1706.8 909.6 1707.4 908.2 1708.1 908.3 1708.7 907.1 1709.3 906.8 1709.9 907.6 1710.6 910.9 1711.2 910.6 1711.8 911.2 1712.4 909.2 1713.0 909.1 1713.7 908.8 1714.3 908.9 1715.0 909.2 1715.7 909.1 1716.7 925.7 1717.3 926.0 1717.9 926.6 1718.6 927.1 1719.2 928.1 1719.8 927.6 1720.4 929.0 1721.3 924.8 1722.0 925.1 1722.7 925.7 1723.4 926.7 1724.1 926.2 1724.9 926.1 1725.6 925.2 1726.4 923.9 1727.1 924.7 1727.8 925.7 1728.4 926.6 1729.0 925.6 1729.6 926.3 1730.2 926.3 1730.9 925.9 1731.5 926.8 1732.1 926.5 1732.7 926.3 1733.3 926.2 1734.0 924.2 1734.7 922.9 1735.4 921.9 1736.1 919.3 1737.0 928.1 1737.7 928.0 1738.3 928.2 1739.0 928.1 1739.7 926.2 1740.4 926.8 1741.0 927.4 1741.7 926.7 1742.6 921.6 1743.5 926.2 1744.2 925.7 1744.8 925.9 1745.5 924.9 1746.1 925.8 1746.8 925.4 1747.4 925.0 1748.1 924.8 1748.6 943.8 1749.4 943.9 1750.1 943.9 1750.9 943.8 1751.7 943.5 1752.4 942.3 1753.2 941.0 1753.9 943.9 1754.6 944.3 1755.3 944.6 1755.9 944.0 1756.6 945.2 1757.2 944.4 1757.9 943.8 1758.6 939.6 1759.3 937.3 1760.2 943.8 1760.8 943.7 1761.4 943.7 1762.0 944.3 1762.6 943.6 1763.3 942.9 1763.9 943.5 1764.5 945.1 1765.1 945.9 1765.7 945.2 1766.3 944.9 1766.9 944.9 1767.6 946.6 1768.2 946.5 1768.8 945.0 1769.4 946.0 1770.1 945.7 1770.7 945.7 1771.3 945.6 1772.0 945.0 1772.6 945.0 1773.3 944.8 1773.9 944.5 1774.6 943.4 1775.2 944.3 1775.9 943.3 1776.5 944.4 1777.2 944.9 1777.8 945.6 1778.6 945.4 1779.3 944.9 1780.1 944.3" fill="none" stroke="#4f39e2" stroke-width="2.7" stroke-linejoin="round" stroke-linecap="round"/>
<path d="M133.1 821.7L133.6 825.4 134.1 831.1 134.6 838.5 135.1 840.0 135.6 829.1 136.1 819.2 136.6 805.9 137.1 798.3 137.6 797.9 138.1 803.7 138.7 805.5 139.2 807.4 139.7 805.2 140.2 804.1 140.7 796.8 141.2 796.2 141.7 814.1 142.2 831.9 142.7 832.2 143.2 835.8 143.8 841.2 144.3 843.3 144.8 845.5 145.3 850.2 145.8 841.9 146.3 839.1 146.8 825.8 147.3 823.7 147.8 845.4 148.2 854.3 148.7 875.7 149.3 863.0 149.8 860.5 150.4 852.3 150.9 849.8 151.4 852.6 151.9 853.4 152.4 854.3 152.9 847.4 153.4 837.7 154.0 829.8 154.5 823.7 155.0 827.0 155.5 828.9 156.0 828.8 156.5 831.9 157.0 834.4 157.5 833.1 158.0 827.4 158.5 827.8 159.0 826.2 159.5 820.9 160.1 826.6 160.6 820.2 161.1 814.4 161.6 815.6 162.1 813.6 162.6 817.8 163.1 822.2 163.6 820.7 164.1 828.1 164.6 833.2 165.2 837.4 165.7 844.1 166.2 848.8 166.7 848.2 167.2 847.9 167.7 851.3 168.2 845.2 168.7 845.7 169.2 841.6 169.8 836.1 170.3 830.2 170.8 831.9 171.3 822.6 171.8 818.5 172.3 806.1 172.8 799.3 173.3 801.6 173.8 800.1 174.3 804.4 174.8 807.4 175.4 822.6 175.9 838.0 176.4 837.1 176.9 835.5 177.4 832.1 177.9 832.9 178.4 829.0 178.9 827.8 179.4 820.4 179.9 812.1 180.4 806.7 180.9 799.9 181.4 791.1 182.0 802.5 182.6 813.6 183.1 812.0 183.6 806.0 184.0 800.9 184.5 796.7 185.0 795.2 185.5 799.5 186.1 807.6 186.6 807.2 187.1 811.5 187.6 812.3 188.1 804.0 188.6 801.9 189.1 800.4 189.6 801.1 190.1 799.3 190.6 786.1 191.1 773.9 191.7 760.1 192.2 746.3 192.7 751.7 193.2 747.8 193.7 751.1 194.2 750.9 194.7 749.7 195.2 750.4 195.7 754.9 196.2 746.2 196.8 753.6 197.3 753.1 197.8 755.9 198.3 756.5 198.8 755.6 199.3 748.2 199.8 749.3 200.3 749.4 200.8 746.7 201.3 747.7 201.8 744.3 202.3 744.7 202.8 745.8 203.3 744.5 203.8 745.3 204.3 748.3 204.8 746.1 205.3 753.8 205.9 750.3 206.4 753.2 206.9 756.7 207.4 756.5 207.9 759.5 208.4 759.3 208.9 765.7 209.5 765.1 210.0 762.7 210.5 766.7 211.0 768.1 211.5 774.4 212.1 773.9 212.6 780.0 213.1 778.2 213.6 785.0 214.1 798.5 214.6 811.6 215.1 821.5 215.6 831.9 216.1 831.9 216.6 826.0 217.1 816.4 217.6 815.6 218.1 823.4 218.6 840.0 219.1 838.0 219.5 833.7 219.9 834.6 220.4 833.5 220.9 832.7 221.3 829.9 221.8 821.2 222.3 815.8 222.7 816.0 223.2 808.1 223.7 804.4 224.2 812.6 224.8 819.8 225.3 829.2 225.8 836.0 226.3 833.0 226.8 831.5 227.3 833.5 227.8 827.2 228.3 822.8 228.8 823.7 229.4 834.8 229.9 850.2 230.4 844.7 230.9 840.2 231.4 833.5 231.9 829.9 232.4 832.0 232.8 831.2 233.3 828.0 233.7 825.7 234.2 829.1 234.6 829.7 235.1 832.1 235.5 832.0 236.0 833.9 236.5 834.1 237.0 840.9 237.5 849.1 238.0 848.2 238.5 845.7 239.0 846.9 239.5 843.1 240.0 844.1 240.6 848.9 241.1 860.5 241.7 864.5 242.2 861.6 242.7 860.8 243.2 859.7 243.6 857.8 244.1 849.4 244.6 848.0 245.1 846.2 245.6 835.9 246.0 838.2 246.4 833.9 246.9 833.5 247.4 834.1 247.8 828.8 248.3 833.9 248.8 831.0 249.2 835.8 249.7 831.7 250.2 831.9 250.8 838.1 251.3 849.7 251.9 856.4 252.4 861.5 252.9 866.1 253.3 875.1 253.8 880.3 254.3 882.8 254.8 878.7 255.3 869.6 255.8 861.6 256.4 857.1 256.9 849.9 257.4 846.2 257.9 847.1 258.4 846.6 258.9 851.5 259.4 856.4 259.9 863.9 260.4 872.7 260.9 873.6 261.4 876.9 261.9 877.2 262.5 879.4 263.0 886.0 263.5 884.9 264.0 882.9 264.5 884.2 265.1 875.8 265.6 874.3 266.1 872.7 266.9 891.0 267.4 907.3 267.9 918.7 268.5 931.2 269.0 946.0 269.5 938.3 270.1 934.7 270.6 925.6 271.1 922.8 271.6 917.1 272.1 913.7 272.6 911.4 273.1 916.5 273.6 916.8 274.1 918.6 274.6 919.5 275.1 923.6 275.7 918.5 276.2 918.6 276.8 916.1 277.3 913.0 277.9 920.3 278.5 930.3 279.0 926.2 279.4 920.3 279.9 913.1 280.3 909.8 280.8 903.7 281.4 904.6 281.9 910.6 282.4 905.6 282.9 906.5 283.3 899.1 283.8 893.8 284.3 894.4 284.9 876.5 285.4 862.0 285.9 867.0 286.3 869.1 286.8 869.3 287.2 870.6 287.7 875.9 288.3 870.1 288.9 866.7 289.3 865.9 289.8 861.1 290.2 857.8 290.7 852.8 291.3 861.8 291.8 874.8 292.4 880.6 292.9 881.1 293.3 883.9 293.8 885.4 294.2 889.8 294.7 892.1 295.2 883.7 295.6 878.5 296.1 872.2 296.5 865.6 297.0 857.4 297.6 851.7 298.1 848.1 298.6 849.3 299.1 848.0 299.5 855.5 300.0 859.8 300.5 859.7 301.1 851.5 301.6 845.8 302.1 848.7 302.5 848.0 303.0 848.7 303.4 852.8 303.9 853.9 304.5 850.9 305.1 850.5 305.7 836.7 306.3 822.7 306.9 815.3 307.4 807.6 307.9 815.2 308.4 811.8 308.9 813.7 309.4 816.5 309.9 816.2 310.4 818.7 310.9 821.5 311.4 818.6 311.8 819.5 312.3 816.5 312.7 820.3 313.2 818.1 313.7 814.7 314.2 811.4 314.7 816.6 315.2 816.7 315.7 815.4 316.2 813.7 316.7 813.4 317.2 817.1 317.6 825.0 318.1 828.4 318.5 835.4 319.0 838.9 319.6 841.2 320.1 847.0 320.6 852.7 321.1 854.4 321.5 857.1 322.0 856.4 322.5 859.7 323.0 860.5 323.4 855.3 323.9 856.7 324.3 851.6 324.8 848.1 325.3 838.8 325.8 829.1 326.3 823.7 326.8 812.7 327.3 805.5 327.8 799.5 328.3 802.4 328.9 812.8 329.4 818.1 330.0 815.1 330.6 811.1 331.1 819.6 331.5 816.4 332.0 818.7 332.4 825.7 332.9 826.2 333.3 821.0 333.8 816.6 334.2 814.8 334.7 806.5 335.1 795.5 335.6 782.2 336.1 781.9 336.5 783.1 337.0 781.0 337.6 771.3 338.1 766.7 338.7 756.7 339.2 759.0 339.6 760.6 340.1 761.8 340.5 771.2 341.0 769.4 341.6 766.5 342.1 755.6 342.6 757.4 343.0 763.0 343.5 761.5 343.9 769.0 344.4 771.8 344.9 772.1 345.3 770.7 345.8 774.0 346.3 775.0 346.8 772.0 347.2 770.7 347.7 767.6 348.2 766.4 348.6 765.2 349.1 767.1 349.6 766.6 350.0 766.6 350.5 767.6 350.9 768.3 351.4 763.7 351.9 769.5 352.4 769.0 352.9 772.4 353.4 769.6 353.9 771.1 354.4 769.8 354.9 774.1 355.3 771.3 355.8 764.5 356.2 757.0 356.7 757.2 357.2 755.7 357.6 747.5 358.1 753.9 358.6 753.9 359.0 756.6 359.5 760.2 360.0 756.3 360.5 767.3 361.0 762.8 361.5 763.4 362.0 767.1 362.5 767.8 363.0 768.3 363.5 766.6 363.9 765.3 364.4 763.1 364.8 753.7 365.3 755.6 365.8 754.6 366.2 749.7 366.7 748.1 367.1 746.9 367.6 744.0 368.1 746.9 368.5 748.6 369.0 749.5 369.4 754.1 369.9 755.6 370.4 759.6 370.9 756.4 371.4 761.5 371.9 764.7 372.4 765.5 372.9 764.7 373.4 768.3 373.9 758.2 374.4 759.0 374.9 751.6 375.4 747.8 375.9 744.4 376.4 739.9 376.9 732.4 377.4 728.5 377.8 733.5 378.3 732.9 378.7 734.4 379.2 737.0 379.7 734.7 380.2 731.9 380.7 733.3 381.2 728.1 381.7 719.0 382.2 717.4 382.7 721.4 383.1 715.8 383.6 720.1 384.1 722.7 384.5 719.6 385.0 724.3 385.5 722.4 386.0 725.4 386.5 728.4 386.9 720.8 387.4 720.9 387.9 722.7 388.4 725.5 388.9 727.3 389.3 729.7 389.8 721.2 390.2 723.1 390.7 723.1 391.2 723.4 391.7 722.7 392.2 718.1 392.7 719.8 393.2 724.5 393.7 720.2 394.2 722.0 394.7 726.2 395.1 727.2 395.6 731.9 396.0 737.8 396.5 742.8 397.0 742.3 397.5 742.3 398.0 749.6 398.5 752.4 399.0 755.2 399.5 756.6 400.0 762.5 400.5 759.7 400.9 758.9 401.4 757.5 401.8 748.8 402.3 752.1 402.8 755.9 403.2 766.3 403.7 768.5 404.1 772.4 404.6 776.4 405.2 794.7 405.8 804.2 406.3 800.9 406.7 796.6 407.2 793.8 407.6 793.6 408.1 788.0 408.6 795.4 409.0 799.6 409.5 802.3 409.9 806.0 410.4 814.6 410.9 809.3 411.3 806.0 411.8 799.7 412.2 798.2 412.7 792.6 413.2 797.9 413.6 802.8 414.1 799.0 414.5 807.3 415.0 814.6 415.5 812.6 416.0 810.9 416.4 804.7 416.9 804.4 417.4 799.5 417.9 796.1 418.3 798.0 418.8 789.3 419.2 790.3 419.7 792.6 420.2 787.1 420.7 784.7 421.2 779.8 421.7 780.0 422.1 777.3 422.6 780.5 423.0 787.8 423.5 784.4 424.0 785.7 424.4 778.5 424.9 785.3 425.3 783.6 425.8 782.1 426.3 779.8 426.7 781.4 427.2 788.1 427.6 788.3 428.1 787.9 428.6 782.7 429.0 779.7 429.5 782.1 429.9 780.0 430.4 779.8 430.9 780.4 431.3 780.1 431.8 779.7 432.2 773.7 432.7 778.7 433.3 772.8 433.8 758.4 434.4 754.4 434.9 753.9 435.3 749.9 435.8 754.2 436.2 752.3 436.7 753.2 437.2 760.2 437.6 766.6 438.1 770.6 438.6 770.7 439.2 773.1 439.7 775.2 440.2 775.0 440.6 774.3 441.1 776.4 441.5 770.9 442.0 769.4 442.5 773.6 442.9 775.0 443.4 780.4 443.8 782.1 444.3 782.1 444.8 781.2 445.2 781.9 445.7 783.7 446.1 780.4 446.6 777.5 447.1 781.0 447.7 784.2 448.2 782.1 448.7 791.1 449.1 800.0 449.6 811.1 450.1 814.7 450.5 809.5 451.0 806.2 451.4 800.2 451.9 798.3 452.4 802.3 452.9 812.9 453.5 818.0 454.0 826.1 454.5 822.0 455.0 817.1 455.5 816.1 456.0 811.7 456.5 809.6 457.0 807.6 457.5 800.8 457.9 794.2 458.4 790.4 458.9 781.0 459.3 776.4 459.8 768.2 460.3 769.7 460.8 774.7 461.2 772.0 461.7 775.2 462.2 771.4 462.7 773.5 463.2 767.3 463.6 765.8 464.1 763.9 464.6 764.5 465.1 764.8 465.6 772.0 466.1 766.6 466.5 766.3 467.0 772.4 467.5 771.7 468.0 770.1 468.4 768.4 468.9 775.7 469.3 774.7 469.8 779.8 470.3 775.8 470.9 771.3 471.4 772.9 471.8 765.5 472.3 761.3 472.8 757.6 473.2 749.7 473.7 742.7 474.2 741.4 474.6 730.9 475.1 728.4 475.6 724.3 476.1 718.3 476.7 715.0 477.2 721.7 477.6 718.9 478.1 721.9 478.5 728.5 479.0 730.0 479.5 720.2 480.1 708.3 480.6 696.5 481.1 701.5 481.5 710.5 482.0 712.7 482.6 709.8 483.1 706.7 483.7 703.4 484.2 699.5 484.6 696.6 485.1 698.2 485.5 694.7 486.0 691.9 486.5 690.3 487.0 693.7 487.5 695.7 487.9 696.6 488.4 700.1 488.9 697.8 489.4 698.8 489.9 694.8 490.3 700.7 490.8 701.0 491.3 708.7 491.7 708.8 492.2 708.1 492.7 705.3 493.1 698.4 493.6 697.3 494.0 689.9 494.5 689.5 495.0 692.2 495.4 694.6 495.9 696.5 496.4 690.5 497.0 686.9 497.5 678.0 498.0 677.9 498.5 676.8 498.9 682.7 499.4 686.0 499.9 687.2 500.4 683.8 500.9 687.9 501.4 690.9 501.8 691.0 502.3 692.2 502.8 692.4 503.3 689.5 503.8 692.0 504.3 688.6 504.8 689.5 505.3 690.6 505.8 691.0 506.3 689.3 506.8 686.1 507.3 686.7 507.8 682.2 508.3 683.1 508.8 677.0 509.3 676.0 509.8 673.9 510.3 673.3 510.8 678.2 511.2 681.6 511.7 684.1 512.1 682.1 512.6 687.2 513.2 693.2 513.8 701.1 514.2 700.1 514.7 700.4 515.2 696.3 515.6 697.4 516.1 697.6 516.6 698.7 517.0 696.6 517.5 704.8 517.9 705.8 518.4 705.7 518.9 702.7 519.3 695.1 519.8 704.2 520.2 698.9 520.7 696.5 521.2 702.5 521.6 702.0 522.1 707.8 522.5 708.5 523.0 710.4 523.5 715.0 524.0 719.4 524.4 722.0 524.9 726.6 525.4 722.5 526.0 718.1 526.5 707.7 527.0 701.1 527.6 700.1 528.2 704.7 528.8 705.7 529.3 701.6 529.7 698.1 530.2 697.8 530.6 692.7 531.1 687.2 531.6 691.3 532.0 690.3 532.5 691.4 532.9 690.4 533.4 691.9 534.0 692.9 534.6 687.2 535.1 691.5 535.5 698.8 536.0 703.7 536.4 706.6 536.9 711.5 537.4 712.2 537.8 709.7 538.3 705.8 538.7 706.7 539.2 706.9 539.7 705.4 540.2 705.2 540.7 702.3 541.2 704.6 541.7 707.1 542.2 706.3 542.7 704.6 543.2 703.7 543.6 704.0 544.1 699.3 544.5 702.6 545.0 703.4 545.5 701.6 545.9 704.9 546.4 696.9 546.8 694.7 547.3 695.3 547.8 686.5 548.2 688.2 548.7 690.5 549.1 695.0 549.6 689.5 550.1 689.0 550.5 682.5 551.0 681.4 551.5 680.3 552.0 672.8 552.4 668.4 552.9 659.7 553.3 653.0 553.8 645.6 554.3 646.0 554.7 648.2 555.2 644.2 555.6 644.4 556.1 644.4 556.6 640.7 557.2 630.4 557.7 628.9 558.2 617.8 558.8 622.1 559.4 625.0 560.0 628.2 560.5 627.3 561.0 629.0 561.4 630.7 561.9 633.2 562.4 630.5 562.9 633.5 563.3 625.0 563.8 625.9 564.2 627.3 564.7 622.4 565.2 622.6 565.8 624.7 566.4 627.2 566.9 625.9 567.5 633.0 568.0 643.8 568.6 652.4 569.1 656.2 569.6 663.1 570.0 662.4 570.5 668.7 571.0 671.7 571.5 667.8 572.0 657.6 572.4 653.8 572.9 644.2 573.4 644.0 574.0 660.2 574.6 672.9 575.1 672.0 575.6 668.1 576.0 669.7 576.5 670.2 577.0 665.7 577.5 667.6 577.9 672.6 578.4 667.9 578.9 672.8 579.3 673.6 579.8 672.5 580.2 674.0 580.7 670.5 581.2 672.9 581.8 684.4 582.3 687.3 582.8 688.5 583.3 689.9 583.8 689.5 584.3 690.1 584.8 693.4 585.3 690.6 585.8 683.5 586.2 679.7 586.7 675.3 587.2 676.8 587.7 677.9 588.1 679.1 588.6 680.9 589.1 678.9 589.6 682.9 590.1 686.4 590.5 693.4 591.0 700.6 591.5 704.2 592.0 702.9 592.5 700.0 592.9 686.6 593.4 683.9 593.9 678.9 594.4 669.7 594.9 669.3 595.3 666.2 595.8 666.0 596.3 659.6 596.9 635.7 597.5 613.9 598.1 605.9 598.7 595.8 599.2 603.8 599.7 601.1 600.2 605.6 600.7 609.0 601.2 596.8 601.8 584.9 602.3 576.5 602.8 580.6 603.3 583.8 603.8 585.4 604.3 592.0 604.8 594.6 605.3 588.9 605.8 586.0 606.2 580.2 606.7 578.1 607.2 570.5 607.7 576.3 608.2 572.1 608.6 579.2 609.1 578.0 609.6 581.3 610.1 576.2 610.6 574.5 611.2 575.0 611.7 567.7 612.2 566.1 612.7 565.7 613.2 567.7 613.7 568.6 614.2 570.0 614.6 571.3 615.1 568.8 615.6 572.9 616.1 571.7 616.6 576.6 617.0 575.3 617.5 574.8 618.0 575.3 618.5 573.3 619.0 570.1 619.4 570.2 619.9 565.7 620.4 555.9 620.9 539.2 621.4 534.9 621.8 532.8 622.3 531.0 622.8 529.5 623.4 536.6 624.0 539.2 624.8 519.9 625.3 516.2 625.9 505.7 626.4 505.4 627.0 505.3 627.5 497.8 628.1 498.2 628.7 463.2 629.3 433.7 629.8 431.9 630.2 423.5 630.7 417.0 631.4 414.9 632.0 411.5 632.6 430.0 633.3 448.5 633.8 438.1 634.3 427.5 634.8 412.4 635.3 421.1 635.9 424.5 636.5 439.9 637.0 445.7 637.5 441.8 638.0 435.6 638.5 428.1 639.1 401.5 639.8 374.4 640.3 386.3 640.8 397.5 641.3 405.9 642.0 407.2 642.6 409.6 643.1 402.5 643.6 395.8 644.1 390.2 644.6 401.2 645.1 413.7 645.6 422.6 646.2 427.9 646.9 437.4 647.4 432.4 647.8 431.7 648.2 426.0 648.7 424.4 649.2 416.9 649.7 414.5 650.1 410.1 650.6 405.9 651.2 398.6 651.9 389.3 652.4 387.6 652.9 389.5 653.3 394.2 653.8 390.3 654.3 393.0 654.8 392.4 655.2 390.2 655.6 397.2 656.1 398.1 656.5 401.4 657.0 402.2 657.5 400.2 657.9 400.9 658.4 397.5 658.9 397.7 659.3 395.2 659.8 394.8 660.3 400.1 660.8 402.0 661.2 408.9 661.7 412.1 662.2 417.0 662.8 407.8 663.3 401.2 663.9 394.4 664.4 383.7 664.9 395.1 665.4 403.3 665.9 411.5 666.5 399.8 667.2 383.7 667.7 390.4 668.2 387.8 668.6 396.1 669.1 398.5 669.7 401.3 670.3 395.9 670.9 393.0 671.4 385.1 671.8 379.7 672.3 371.3 672.8 367.0 673.2 376.6 673.7 376.6 674.1 386.1 674.6 386.5 675.1 384.5 675.5 382.6 676.0 377.7 676.5 370.7 677.4 354.1 677.9 352.7 678.3 361.0 678.8 356.7 679.3 361.5 679.8 351.2 680.2 343.5 680.6 336.6 681.1 326.3 681.6 327.5 682.0 328.3 682.5 325.5 683.0 332.8 683.5 327.1 683.9 327.1 684.4 319.8 684.9 319.9 685.3 318.2 685.8 313.4 686.3 307.8 686.8 315.4 687.2 316.1 687.6 321.9 688.1 327.2 688.8 312.9 689.4 306.9 689.9 310.1 690.3 311.7 690.8 309.5 691.3 314.3 691.8 315.2 692.3 314.3 692.7 311.5 693.2 307.4 693.7 313.3 694.2 314.3 694.8 318.6 695.4 323.8 695.9 324.4 696.4 325.6 696.8 318.2 697.3 319.6 697.8 317.0 698.3 321.0 698.9 325.6 699.5 331.9 700.0 341.1 700.5 338.8 701.0 331.8 701.5 329.0 702.0 321.1 702.5 321.2 703.0 317.0 703.5 325.9 704.1 330.5 704.7 341.5 705.2 348.5 705.8 352.6 706.4 365.4 707.0 372.6 707.5 372.4 708.0 367.3 708.4 364.8 708.9 363.3 709.5 366.7 710.0 384.0 710.5 388.8 711.1 394.8 711.6 394.2 712.1 384.8 712.5 377.5 713.0 378.4 713.5 374.4 714.0 369.5 714.5 366.1 714.9 360.9 715.4 359.6 715.9 351.8 716.3 346.9 716.8 337.9 717.2 333.7 717.7 334.6 718.2 337.5 718.6 338.9 719.1 343.0 719.6 347.4 720.2 348.2 720.7 351.5 721.2 347.3 721.6 345.5 722.1 349.4 722.5 342.5 723.0 342.1 723.5 341.7 723.9 343.2 724.4 340.4 724.9 335.1 725.3 337.4 725.8 329.2 726.3 320.0 726.8 321.5 727.2 328.1 727.7 323.6 728.2 328.6 728.6 330.4 729.1 331.1 729.6 328.4 730.0 337.5 730.5 334.4 730.9 338.3 731.4 339.6 731.9 339.4 732.3 342.8 732.8 346.0 733.2 339.5 733.7 342.2 734.2 344.3 734.6 338.8 735.1 335.4 735.6 332.5 736.0 332.7 736.5 332.8 737.0 331.7 737.4 327.5 737.9 322.1 738.4 321.7 738.8 326.7 739.3 320.9 740.0 320.0 740.6 328.3 741.1 341.7 741.7 351.7 742.4 340.2 743.0 330.0 743.6 329.5 744.1 344.7 744.7 346.7 745.2 346.7 745.8 338.4 746.3 340.8 746.9 348.2 747.4 355.7 748.0 365.0 748.6 362.6 749.1 345.5 749.7 343.3 750.2 341.7 750.6 341.8 751.1 340.7 751.6 335.5 752.0 338.5 752.5 333.3 753.1 341.5 753.6 347.8 754.2 353.3 754.8 330.1 755.3 311.7 755.9 299.0 756.4 282.6 757.0 266.7 757.6 269.7 758.3 276.7 758.9 270.5 759.5 264.2 760.1 287.0 760.8 310.0 761.3 333.3 761.8 329.1 762.3 325.3 762.8 322.4 763.3 318.3 763.8 322.3 764.2 323.0 764.7 323.3 765.2 303.8 765.8 285.0 766.4 294.3 766.9 301.0 767.5 306.7 768.0 306.7 768.5 305.9 769.0 304.3 769.5 304.7 770.0 303.3 770.6 299.5 771.1 301.0 771.7 297.5 772.2 300.7 772.7 300.0 773.2 299.3 773.7 308.9 774.2 310.0 774.7 308.7 775.3 299.4 775.8 295.8 776.4 293.7 776.9 294.2 777.5 289.2 778.1 295.7 778.6 301.2 779.2 306.7 779.7 301.3 780.3 307.1 780.8 299.2 781.4 312.6 781.9 322.1 782.5 338.3 783.1 332.2 783.6 330.7 784.2 321.7 784.7 321.0 785.3 326.7 785.8 328.3 786.4 342.0 786.9 345.4 787.5 357.5 788.1 349.6 788.6 336.7 789.2 330.0 789.7 329.2 790.2 324.8 790.7 322.4 791.2 317.9 791.7 316.7 792.4 305.4 793.0 291.7 793.6 289.0 794.1 288.8 794.7 281.7 795.2 288.2 795.8 289.3 796.3 295.0 796.9 288.1 797.4 285.6 798.0 281.7 798.6 296.2 799.1 300.4 799.7 305.8 800.2 301.4 800.6 297.1 801.1 293.2 801.6 294.5 802.0 295.9 802.5 296.7 803.1 290.1 803.6 286.3 804.2 282.5 804.7 285.3 805.3 277.2 805.8 278.3 806.4 279.7 806.9 283.2 807.5 285.8 808.1 287.0 808.6 292.0 809.2 291.7 809.7 289.0 810.2 282.0 810.8 277.1 811.3 276.7 811.8 278.7 812.3 275.8 812.8 272.6 813.3 270.8 813.9 271.5 814.4 265.3 815.0 267.5 815.6 256.8 816.3 246.7 816.8 248.2 817.3 257.4 817.8 259.6 818.3 264.2 818.9 252.7 819.4 244.9 820.0 230.8 820.6 237.8 821.3 243.3 821.8 235.0 822.3 236.9 822.8 235.0 823.3 232.5 823.8 227.3 824.2 224.8 824.7 220.0 825.2 227.3 825.8 235.0 826.3 243.3 826.9 249.3 827.5 259.9 828.0 265.0 828.5 263.1 829.0 263.7 829.5 253.8 830.0 252.5 830.6 256.7 831.3 260.0 831.9 278.9 832.5 303.3 833.0 297.9 833.5 293.4 834.0 289.7 834.5 281.6 835.0 276.7 835.5 294.8 836.0 302.9 836.5 309.6 837.0 323.0 837.5 338.3 838.1 332.5 838.6 327.3 839.2 325.0 839.9 349.4 840.5 378.3 841.0 361.8 841.5 352.1 842.0 336.7 842.6 331.1 843.3 325.0 843.9 317.2 844.4 314.6 845.0 311.7 845.6 318.4 846.1 322.4 846.7 325.0 847.2 326.8 847.7 318.8 848.2 322.8 848.7 329.4 849.2 330.0 849.7 333.2 850.2 332.8 850.8 327.3 851.3 331.7 851.9 340.8 852.5 348.3 853.0 350.1 853.6 354.2 854.2 355.7 854.7 358.3 855.2 354.1 855.7 351.1 856.2 344.8 856.7 339.2 857.2 354.1 857.8 361.7 858.3 375.0 858.9 367.5 859.4 363.6 860.0 353.3 860.6 355.6 861.1 358.4 861.7 363.3 862.2 353.7 862.7 339.1 863.2 330.3 863.7 313.3 864.2 310.8 864.8 316.5 865.3 315.1 865.8 321.7 866.3 323.2 866.8 321.3 867.3 318.9 867.8 318.7 868.3 316.7 868.8 313.0 869.4 311.1 870.0 307.0 870.5 307.5 871.1 315.1 871.7 316.7 872.2 326.7 872.8 336.1 873.3 348.3 873.8 344.4 874.3 347.9 874.8 346.2 875.3 343.4 875.8 343.3 876.3 342.1 876.8 337.0 877.3 337.0 877.8 336.7 878.3 333.3 878.9 345.3 879.4 352.7 880.0 361.7 880.5 358.3 880.9 356.9 881.4 356.2 881.9 356.4 882.4 356.7 882.8 357.8 883.3 358.3 883.9 357.1 884.4 359.2 885.0 359.5 885.5 358.2 886.0 347.8 886.6 346.6 887.1 348.9 887.6 348.3 888.0 351.7 888.5 349.8 888.9 350.6 889.4 352.4 889.9 355.5 890.3 362.6 890.8 362.1 891.2 365.1 891.7 368.3 892.3 371.0 892.9 371.8 893.4 368.2 893.8 369.6 894.2 367.1 894.7 364.7 895.3 375.7 895.9 386.7 896.5 374.1 897.0 357.7 897.6 374.5 898.2 384.1 898.8 381.8 899.3 376.4 899.9 375.3 900.5 359.0 901.2 345.4 901.7 353.7 902.1 357.8 902.6 364.7 903.2 368.5 903.7 367.1 904.3 368.3 904.8 369.9 905.2 370.5 905.6 365.3 906.1 370.9 906.7 365.6 907.3 363.4 907.9 358.6 908.5 357.9 909.0 353.7 909.6 350.7 910.2 345.7 910.8 340.4 911.4 334.8 911.9 330.9 912.3 331.9 912.8 328.7 913.3 328.5 913.8 327.4 914.4 330.4 914.9 333.1 915.4 335.1 915.8 335.8 916.3 340.1 916.8 332.9 917.3 329.8 917.9 317.2 918.4 315.5 918.9 316.8 919.3 313.2 919.8 319.3 920.2 319.9 920.7 323.2 921.2 324.3 921.8 322.2 922.3 324.7 922.8 323.4 923.2 323.8 923.7 317.6 924.1 317.7 924.6 315.5 925.1 314.9 925.6 317.0 926.2 318.8 926.7 324.0 927.2 324.3 927.7 326.3 928.2 319.3 928.8 322.7 929.3 320.2 929.8 319.0 930.2 316.0 930.7 311.9 931.1 310.6 931.6 307.6 932.2 310.3 932.8 305.4 933.4 310.2 934.2 278.6 934.8 276.3 935.4 277.5 936.0 277.7 936.6 279.4 937.2 282.7 937.8 281.2 938.4 290.3 938.9 294.2 939.5 303.2 940.4 331.3 941.0 333.2 941.5 332.8 942.1 336.6 942.7 342.5 943.3 342.1 943.9 348.9 944.4 353.7 944.8 355.6 945.2 358.6 945.7 363.0 946.3 361.8 946.8 356.8 947.4 354.2 947.9 360.9 948.3 366.3 948.8 364.0 949.2 368.3 949.8 378.8 950.3 379.8 950.9 385.0 951.4 384.8 951.8 373.6 952.2 372.7 952.7 370.0 953.3 364.3 953.9 361.6 954.5 356.8 955.1 348.7 955.6 350.3 956.2 344.5 957.1 366.5 957.7 360.1 958.3 356.7 958.9 355.9 959.4 355.3 959.9 360.1 960.5 358.8 961.0 360.7 961.5 360.3 962.1 356.4 962.6 356.9 963.2 354.2 963.7 354.7 964.3 355.6 964.8 358.6 965.4 359.5 965.9 363.0 966.4 361.9 966.9 355.3 967.5 352.9 968.0 351.7 968.5 349.8 969.1 353.0 969.7 357.1 970.3 361.2 970.9 373.8 971.4 385.4 972.0 399.0 972.6 388.9 973.2 373.9 973.8 361.2 974.2 357.2 974.7 356.3 975.1 353.3 975.6 350.7 976.4 329.6 976.9 333.7 977.3 332.7 977.8 339.4 978.2 343.6 978.7 344.9 979.2 330.6 979.8 332.5 980.3 330.8 980.8 327.8 981.2 325.4 981.7 330.1 982.1 331.4 982.6 332.2 983.5 306.7 984.1 306.9 984.6 300.3 985.2 296.2 985.8 304.4 986.4 303.5 987.0 308.5 987.6 314.6 988.1 317.0 988.7 325.2 989.2 311.2 989.7 309.4 990.2 297.9 990.8 292.7 991.3 287.8 991.9 283.9 992.4 285.8 992.8 277.2 993.2 279.4 993.7 275.1 994.3 265.8 994.8 247.2 995.4 242.5 996.0 248.0 996.7 255.7 997.3 265.1 997.9 271.5 998.4 267.8 998.8 266.8 999.3 261.0 999.7 259.1 1000.2 257.5 1000.8 262.4 1001.3 261.9 1001.9 262.8 1002.4 257.7 1002.8 257.1 1003.2 252.2 1003.7 248.7 1004.3 251.1 1004.9 254.0 1005.5 254.0 1006.3 239.9 1006.8 270.6 1007.2 303.2 1008.1 268.0 1008.6 254.2 1009.0 233.9 1009.5 220.6 1010.1 227.0 1010.7 231.1 1011.4 250.1 1012.0 268.0 1012.5 273.6 1012.9 279.4 1013.4 289.1 1014.0 283.6 1014.5 281.6 1015.1 273.3 1015.7 261.7 1016.3 245.6 1016.9 232.0 1017.5 238.3 1018.0 236.4 1018.6 243.4 1019.1 241.1 1019.7 247.5 1020.2 250.5 1020.8 244.5 1021.3 250.4 1021.8 256.6 1022.3 258.7 1022.9 263.5 1023.4 264.0 1023.9 268.0 1024.4 272.6 1025.0 275.2 1025.5 279.4 1026.0 283.9 1026.6 264.3 1027.2 254.4 1027.8 241.7 1028.3 254.3 1028.7 259.9 1029.2 269.8 1029.7 259.8 1030.3 254.1 1030.8 246.7 1031.3 245.9 1031.9 242.5 1032.5 243.8 1033.0 236.7 1033.6 248.3 1034.2 251.7 1034.7 248.5 1035.2 253.9 1035.8 258.2 1036.3 256.7 1036.8 256.8 1037.3 252.5 1037.8 250.9 1038.2 249.7 1038.7 251.9 1039.2 250.8 1039.7 253.8 1040.3 254.2 1040.8 253.3 1041.3 254.8 1041.8 253.1 1042.3 253.2 1042.7 251.7 1043.2 256.5 1043.7 249.6 1044.2 250.0 1044.8 254.0 1045.3 260.0 1045.8 270.3 1046.3 288.3 1046.9 304.5 1047.5 316.7 1048.1 300.0 1048.7 281.7 1049.2 294.1 1049.7 310.0 1050.2 295.4 1050.8 285.0 1051.4 280.9 1051.9 278.9 1052.5 270.0 1053.0 272.7 1053.6 275.3 1054.2 274.5 1054.7 275.0 1055.2 288.1 1055.8 297.5 1056.4 291.7 1056.9 280.3 1057.5 272.5 1058.1 275.6 1058.6 278.2 1059.2 281.7 1059.7 274.0 1060.2 269.9 1060.8 263.7 1061.3 259.2 1061.9 250.1 1062.4 253.3 1063.0 246.7 1063.5 244.3 1064.0 243.4 1064.5 242.8 1065.0 241.7 1065.6 244.5 1066.1 249.7 1066.7 250.0 1067.2 252.8 1067.7 254.8 1068.2 257.1 1068.7 260.0 1069.2 254.4 1069.8 254.2 1070.3 250.4 1070.8 246.7 1071.4 265.8 1072.0 283.3 1072.6 280.3 1073.1 277.8 1073.7 276.7 1074.2 278.0 1074.7 276.7 1075.3 281.0 1075.8 279.6 1076.3 278.3 1076.8 281.4 1077.3 289.1 1077.8 287.1 1078.3 290.0 1078.9 299.9 1079.4 303.0 1080.0 308.3 1080.6 306.1 1081.1 306.7 1081.7 310.0 1082.2 322.4 1082.8 323.0 1083.3 330.0 1083.8 342.4 1084.2 360.1 1084.7 375.0 1085.2 366.4 1085.7 362.4 1086.2 358.9 1086.7 353.3 1087.5 311.7 1088.3 280.8 1088.8 286.0 1089.2 291.3 1089.7 290.0 1090.2 300.4 1090.8 310.1 1091.3 315.8 1091.9 311.3 1092.5 300.0 1093.1 314.0 1093.6 322.3 1094.2 335.8 1094.7 331.9 1095.3 322.6 1095.8 320.0 1096.3 323.6 1096.9 319.0 1097.5 316.8 1098.0 315.0 1098.6 324.6 1099.1 326.2 1099.7 335.0 1100.2 333.2 1100.6 329.4 1101.1 324.8 1101.6 320.9 1102.0 314.7 1102.5 310.0 1103.0 316.9 1103.6 332.5 1104.2 334.7 1104.7 340.0 1105.2 333.0 1105.7 333.7 1106.2 330.1 1106.7 326.7 1107.2 320.6 1107.7 313.3 1108.2 308.9 1108.7 302.5 1109.2 312.8 1109.8 326.8 1110.3 343.3 1110.8 341.3 1111.4 338.3 1112.0 336.4 1112.5 335.0 1113.1 336.9 1113.6 339.5 1114.2 342.5 1114.7 339.4 1115.2 334.4 1115.7 335.3 1116.2 331.6 1116.7 328.3 1117.2 329.2 1117.7 331.1 1118.2 336.0 1118.7 333.8 1119.2 336.7 1119.7 341.4 1120.2 339.2 1120.8 345.9 1121.3 348.3 1121.8 345.0 1122.3 340.8 1122.7 335.0 1123.2 331.7 1123.7 325.0 1124.2 319.7 1124.8 325.3 1125.3 318.3 1125.9 321.9 1126.4 322.3 1127.0 325.0 1127.5 320.7 1128.1 314.8 1128.7 315.4 1129.2 316.7 1129.7 318.2 1130.3 324.2 1130.8 330.0 1131.4 339.0 1132.0 350.8 1132.5 347.9 1133.1 343.9 1133.7 341.5 1134.2 338.3 1134.7 340.5 1135.3 350.6 1135.8 351.7 1136.3 343.3 1136.8 338.6 1137.3 333.3 1137.8 327.1 1138.3 321.7 1138.9 326.6 1139.4 334.7 1140.0 340.0 1140.5 340.9 1141.0 346.2 1141.5 345.4 1142.0 346.7 1142.5 344.2 1143.1 340.7 1143.7 333.9 1144.2 331.7 1144.7 331.2 1145.2 328.3 1145.7 330.0 1146.2 330.6 1146.7 328.3 1147.3 321.7 1148.0 315.8 1148.6 318.1 1149.1 320.5 1149.7 325.0 1150.2 325.1 1150.7 327.8 1151.2 328.3 1151.8 327.1 1152.3 324.6 1152.8 322.3 1153.3 324.2 1153.8 323.6 1154.3 325.3 1154.8 328.8 1155.2 327.4 1155.7 328.7 1156.2 330.0 1156.7 327.5 1157.2 327.6 1157.7 332.7 1158.2 332.8 1158.7 329.9 1159.2 333.3 1159.7 333.6 1160.2 335.3 1160.7 340.6 1161.2 336.3 1161.7 338.3 1162.2 339.6 1162.8 350.1 1163.3 348.3 1163.8 345.0 1164.3 349.4 1164.8 339.2 1165.3 341.2 1165.8 338.3 1166.3 336.5 1166.8 339.0 1167.3 341.3 1167.8 344.5 1168.3 346.7 1168.9 353.7 1169.4 355.5 1170.0 363.3 1170.6 358.2 1171.1 351.1 1171.7 345.0 1172.2 346.0 1172.7 341.5 1173.2 341.5 1173.7 337.7 1174.2 338.3 1174.7 338.0 1175.1 336.6 1175.6 337.9 1176.1 329.9 1176.6 329.2 1177.0 332.0 1177.5 330.0 1178.0 330.6 1178.5 329.1 1179.0 325.0 1179.5 323.0 1180.0 325.0 1180.6 316.5 1181.2 316.2 1181.7 319.7 1182.2 313.7 1182.6 317.7 1183.1 318.7 1183.6 315.4 1184.0 315.7 1184.5 315.0 1185.0 308.9 1185.5 307.0 1186.1 329.7 1186.8 352.5 1187.2 346.4 1187.8 342.0 1188.2 338.2 1188.8 337.5 1189.2 337.2 1189.8 335.2 1190.2 339.5 1190.8 335.7 1191.2 333.8 1191.7 332.9 1192.2 333.5 1192.7 331.7 1193.1 333.5 1193.6 332.9 1194.1 341.2 1194.5 339.1 1195.0 337.5 1195.5 342.1 1196.0 343.2 1196.5 344.0 1197.0 346.2 1197.6 346.1 1198.2 342.1 1198.8 340.0 1199.4 341.8 1200.0 347.5 1200.6 341.6 1201.2 345.0 1201.8 348.4 1202.4 357.4 1203.0 362.5 1203.5 369.2 1204.0 376.0 1204.5 385.0 1205.1 395.9 1205.7 402.3 1206.2 415.0 1206.9 424.2 1207.5 441.2 1208.0 432.8 1208.5 429.6 1209.0 425.8 1209.5 417.5 1210.1 420.4 1210.8 425.0 1211.4 418.0 1212.0 415.0 1212.5 427.7 1213.0 440.0 1213.5 453.6 1214.0 463.4 1214.5 478.8 1215.0 467.0 1215.5 459.1 1216.0 458.6 1216.5 447.1 1217.0 441.2 1217.6 448.5 1218.2 460.5 1218.8 470.0 1219.3 472.7 1219.9 479.1 1220.5 485.0 1221.0 506.7 1221.5 525.3 1222.0 540.0 1222.5 522.2 1223.0 511.3 1223.5 496.8 1224.0 483.1 1224.5 472.5 1225.0 466.9 1225.5 462.1 1226.0 459.2 1226.5 458.2 1227.0 456.8 1227.5 450.0 1228.0 454.9 1228.5 460.0 1229.0 463.5 1229.5 467.5 1230.1 463.0 1230.7 455.3 1231.2 450.0 1231.8 448.9 1232.4 453.7 1233.0 452.5 1233.5 455.1 1234.0 461.0 1234.5 463.8 1235.1 410.7 1235.8 360.0 1236.3 364.0 1236.9 365.4 1237.5 370.0 1238.0 373.1 1238.5 376.6 1239.0 387.6 1239.5 390.0 1240.0 378.8 1240.5 368.8 1241.0 385.4 1241.5 399.0 1242.0 415.0 1242.5 432.4 1243.0 455.0 1243.5 462.3 1244.0 479.3 1244.5 485.0 1245.0 487.4 1245.5 488.6 1246.0 491.2 1246.5 470.4 1247.0 442.5 1247.6 438.5 1248.2 432.1 1248.8 427.5 1249.4 414.7 1250.0 407.5 1250.5 401.7 1251.0 400.7 1251.5 401.9 1252.0 399.2 1252.5 400.0 1253.0 392.9 1253.5 393.7 1254.0 386.7 1254.5 376.2 1255.1 383.5 1255.7 390.8 1256.2 400.0 1256.8 403.7 1257.2 408.8 1257.8 415.9 1258.2 419.6 1258.8 425.0 1259.4 433.7 1260.0 435.0 1260.6 419.2 1261.2 402.5 1261.9 419.2 1262.5 440.0 1263.0 446.9 1263.5 446.9 1264.0 449.8 1264.5 450.0 1265.0 449.9 1265.5 443.5 1266.0 448.0 1266.5 454.3 1267.0 452.4 1267.5 448.8 1268.0 449.8 1268.5 449.9 1269.0 446.1 1269.5 444.2 1270.0 450.0 1270.5 452.2 1271.0 462.4 1271.5 464.3 1272.0 468.6 1272.5 475.0 1273.0 483.5 1273.5 493.2 1274.0 507.4 1274.5 520.0 1275.0 509.7 1275.5 502.0 1276.0 491.9 1276.5 487.0 1277.0 482.5 1277.5 504.1 1278.0 516.0 1278.5 528.5 1279.0 545.2 1279.5 556.2 1280.1 547.9 1280.7 545.2 1281.2 530.0 1281.8 523.1 1282.4 513.1 1283.0 505.0 1283.5 500.2 1284.0 496.4 1284.5 491.2 1285.0 485.0 1285.5 488.7 1286.0 491.6 1286.5 500.4 1287.0 500.7 1287.5 507.5 1288.1 494.1 1288.8 477.5 1289.2 480.8 1289.8 479.6 1290.2 480.4 1290.8 482.7 1291.2 485.0 1291.8 485.5 1292.4 489.2 1293.0 490.0 1293.5 494.0 1294.0 508.6 1294.5 517.3 1295.0 525.0 1295.5 525.3 1296.0 516.4 1296.5 509.9 1297.0 506.8 1297.5 502.5 1298.0 495.8 1298.5 493.7 1299.0 484.0 1299.5 478.3 1300.0 472.0 1300.5 468.8 1301.0 471.1 1301.4 475.9 1301.9 469.6 1302.4 475.7 1302.8 471.7 1303.3 471.2 1303.8 472.5 1304.2 473.5 1304.7 471.4 1305.2 472.8 1305.6 474.9 1306.1 472.0 1306.6 473.5 1307.0 479.6 1307.5 472.5 1308.0 474.7 1308.5 484.0 1309.0 485.7 1309.5 488.6 1310.0 495.0 1310.5 491.0 1311.0 490.4 1311.5 486.4 1312.0 485.5 1312.5 480.0 1313.0 479.9 1313.5 483.5 1314.0 481.9 1314.5 483.0 1315.0 485.0 1315.5 481.3 1316.0 478.5 1316.5 475.5 1317.0 472.9 1317.5 472.5 1318.0 474.3 1318.5 479.7 1319.0 481.9 1319.5 484.5 1320.0 483.9 1320.5 491.7 1321.0 493.9 1321.6 504.2 1322.1 508.5 1322.6 508.6 1323.0 499.0 1323.5 499.6 1323.9 487.8 1324.4 487.4 1324.9 487.4 1325.4 481.7 1326.0 481.9 1326.5 479.6 1327.0 476.8 1327.5 469.0 1327.9 465.3 1328.4 457.5 1329.1 449.9 1329.7 442.5 1330.3 447.2 1330.9 455.7 1331.4 454.7 1331.8 454.8 1332.3 450.4 1332.8 459.5 1333.2 473.2 1333.7 479.5 1334.3 474.7 1334.9 471.8 1335.5 468.9 1336.0 472.7 1336.5 476.6 1336.9 482.9 1337.4 481.9 1337.9 482.1 1338.5 480.7 1339.1 478.9 1339.7 473.3 1340.2 470.6 1340.6 471.5 1341.1 474.1 1341.5 475.0 1342.0 472.4 1342.6 472.9 1343.1 473.7 1343.7 475.1 1344.2 476.6 1344.6 475.5 1345.1 478.7 1345.5 477.4 1346.0 478.6 1346.5 479.3 1347.0 474.5 1347.6 473.0 1348.1 469.8 1348.5 462.7 1349.0 466.3 1349.4 459.7 1349.9 463.2 1350.3 464.4 1350.8 461.0 1351.4 453.5 1351.9 448.7 1352.5 443.4 1353.2 440.3 1353.8 434.6 1354.3 429.6 1354.7 428.3 1355.2 424.9 1355.7 428.4 1356.1 428.9 1356.6 432.9 1357.2 438.5 1357.8 446.9 1358.3 448.2 1358.7 441.7 1359.2 437.7 1359.6 432.9 1360.1 429.3 1360.6 428.6 1361.2 429.9 1361.7 433.6 1362.2 438.1 1362.7 438.0 1363.2 433.1 1363.8 428.9 1364.3 427.6 1364.8 429.4 1365.2 439.9 1365.7 446.6 1366.1 450.4 1366.6 450.4 1367.0 447.1 1367.5 448.4 1368.0 439.1 1368.4 434.6 1368.9 441.0 1369.4 443.4 1370.0 443.1 1370.5 447.0 1371.0 446.9 1371.6 444.1 1372.2 436.6 1372.8 436.4 1373.4 439.3 1373.9 449.3 1374.5 452.2 1375.1 462.0 1375.7 458.0 1376.3 464.5 1377.1 479.5 1377.5 479.0 1378.0 477.8 1378.5 473.7 1378.9 473.3 1379.5 473.6 1380.1 478.7 1380.7 480.3 1381.3 488.1 1381.8 492.9 1382.4 498.8 1383.0 493.8 1383.6 495.0 1384.2 490.9 1384.8 491.3 1385.3 487.9 1385.9 483.0 1386.4 485.7 1386.8 488.6 1387.3 492.0 1387.7 492.7 1388.2 495.3 1388.8 497.9 1389.4 501.9 1390.0 505.0 1390.6 503.6 1391.1 502.1 1391.7 507.6 1392.3 495.0 1393.0 483.9 1393.6 484.7 1394.1 486.8 1394.7 496.2 1395.3 491.8 1395.9 491.9 1396.5 487.4 1397.1 479.3 1397.7 473.3 1398.2 466.2 1398.6 469.2 1399.1 461.9 1399.6 461.9 1400.2 457.9 1400.7 464.1 1401.2 464.5 1401.8 469.3 1402.3 475.1 1402.8 468.4 1403.3 461.6 1403.9 453.8 1404.4 440.8 1404.9 459.8 1405.3 475.7 1405.8 494.4 1406.4 488.8 1407.0 480.3 1407.5 486.1 1407.9 495.5 1408.4 498.7 1408.8 502.1 1409.3 506.7 1409.8 501.5 1410.3 496.5 1410.9 492.7 1411.4 487.4 1411.9 486.6 1412.5 476.7 1413.0 471.3 1413.5 470.7 1414.0 480.4 1414.5 489.3 1415.0 494.4 1415.5 486.9 1415.9 481.8 1416.4 475.1 1416.9 476.7 1417.5 480.6 1418.0 483.7 1418.5 480.3 1419.1 482.5 1419.6 488.2 1420.2 492.6 1420.7 491.4 1421.1 489.2 1421.6 488.7 1422.0 484.0 1422.5 485.4 1422.9 483.0 1423.4 484.7 1423.9 488.6 1424.5 491.9 1425.0 495.1 1425.5 496.2 1426.1 511.0 1426.7 525.7 1427.3 536.6 1428.1 550.7 1428.8 574.1 1429.4 594.6 1429.9 582.6 1430.3 573.1 1430.8 561.2 1431.4 552.6 1431.9 547.9 1432.5 540.1 1433.0 531.4 1433.4 519.6 1433.9 519.0 1434.6 528.8 1435.2 538.4 1435.8 528.5 1436.4 527.8 1436.9 539.0 1437.3 545.6 1437.8 554.2 1438.4 565.8 1439.0 578.6 1439.6 591.1 1440.2 581.1 1440.7 572.9 1441.3 556.8 1441.8 568.6 1442.2 571.8 1442.8 534.2 1443.4 487.4 1444.0 492.3 1444.6 496.9 1445.2 501.4 1445.8 500.9 1446.4 506.0 1447.0 505.0 1447.5 518.0 1447.9 531.5 1448.4 541.9 1449.0 540.1 1449.5 534.1 1450.1 529.6 1450.6 520.5 1451.2 514.3 1451.7 508.1 1452.2 494.4 1452.8 486.1 1453.4 485.2 1454.0 478.6 1454.6 481.8 1455.1 488.3 1455.7 490.9 1456.2 489.5 1456.6 480.9 1457.1 480.2 1457.5 477.9 1458.0 478.6 1458.6 474.7 1459.2 466.5 1459.8 460.1 1460.4 460.7 1461.0 461.3 1461.6 462.8 1462.1 467.2 1462.7 473.0 1463.2 477.0 1463.8 482.1 1464.3 484.2 1464.9 484.1 1465.5 487.7 1466.0 483.9 1466.5 478.1 1466.9 473.5 1467.4 464.5 1468.0 465.9 1468.5 468.8 1469.0 464.0 1469.6 468.4 1470.1 468.8 1470.5 461.9 1471.0 465.3 1471.5 458.5 1471.9 461.1 1472.4 458.9 1472.9 457.0 1473.3 452.9 1473.8 453.4 1474.3 461.3 1474.7 453.5 1475.2 462.6 1475.7 464.1 1476.1 467.6 1476.6 473.1 1477.1 477.1 1477.5 473.5 1478.0 479.8 1478.4 480.0 1478.9 478.8 1479.4 471.1 1479.8 474.4 1480.3 465.0 1480.7 465.6 1481.2 465.0 1481.7 462.1 1482.1 467.2 1482.6 470.8 1483.0 468.1 1483.5 475.4 1484.0 474.7 1484.5 472.7 1485.0 470.0 1485.5 468.6 1486.0 469.4 1486.5 468.3 1487.0 465.0 1487.5 466.9 1488.0 466.5 1488.5 467.3 1489.0 471.3 1489.5 468.5 1490.0 469.0 1490.5 470.7 1491.0 470.8 1491.4 472.0 1491.9 471.9 1492.3 469.7 1492.8 470.7 1493.3 472.4 1493.8 466.8 1494.3 468.4 1494.8 469.4 1495.3 465.5 1495.8 465.4 1496.2 460.3 1496.8 459.5 1497.3 463.9 1497.8 461.6 1498.3 458.2 1498.8 460.8 1499.3 463.8 1499.8 466.8 1500.2 469.7 1500.7 471.5 1501.1 471.8 1501.6 475.4 1502.1 471.6 1502.7 471.5 1503.2 466.1 1503.7 452.9 1504.3 444.3 1504.8 438.3 1505.3 437.1 1505.8 436.0 1506.2 436.7 1506.7 436.0 1507.3 436.4 1507.9 430.3 1508.5 426.8 1509.0 439.5 1509.4 440.6 1509.9 439.0 1510.3 431.3 1510.8 428.2 1511.3 424.4 1511.9 425.8 1512.5 423.3 1513.0 413.4 1513.6 402.4 1514.1 392.0 1514.6 381.6 1515.0 374.1 1515.5 368.9 1516.0 364.8 1516.6 363.9 1517.1 361.9 1517.6 367.3 1518.2 371.5 1518.7 373.5 1519.2 370.2 1519.7 368.7 1520.1 368.9 1520.6 366.6 1521.0 373.9 1521.5 377.6 1522.0 375.9 1522.4 382.8 1522.9 381.7 1523.3 382.3 1523.8 373.6 1524.2 370.9 1524.7 371.2 1525.2 367.4 1525.6 371.9 1526.1 371.2 1526.5 364.4 1527.0 364.3 1527.5 362.3 1527.9 361.3 1528.4 351.1 1528.9 352.8 1529.3 350.5 1529.8 348.1 1530.3 352.3 1530.7 351.7 1531.2 349.3 1531.6 355.9 1532.1 356.2 1532.6 358.9 1533.0 358.6 1533.5 356.9 1533.9 355.8 1534.4 359.6 1534.9 359.7 1535.3 361.7 1535.8 362.5 1536.3 357.9 1536.7 355.5 1537.2 355.0 1537.7 356.8 1538.1 360.4 1538.6 359.9 1539.0 360.6 1539.5 363.1 1540.0 362.1 1540.5 363.0 1541.0 369.7 1541.5 374.0 1542.0 373.3 1542.5 373.5 1543.0 371.7 1543.5 361.6 1543.9 363.4 1544.4 355.9 1544.9 350.4 1545.4 353.1 1546.0 356.1 1546.5 364.3 1547.0 359.0 1547.4 359.4 1547.9 358.9 1548.3 355.3 1548.8 352.7 1549.3 351.5 1549.7 350.6 1550.2 353.1 1550.7 348.6 1551.1 351.6 1551.6 351.2 1552.0 351.6 1552.5 349.2 1553.0 349.1 1553.4 350.2 1553.9 354.3 1554.3 352.3 1554.8 355.0 1555.3 358.8 1555.7 364.4 1556.2 361.5 1556.6 367.8 1557.1 370.0 1557.6 366.4 1558.2 359.1 1558.8 357.3 1559.2 351.6 1559.7 348.1 1560.2 346.1 1560.6 348.2 1561.1 343.4 1561.6 340.3 1562.2 334.4 1562.7 331.9 1563.2 328.7 1563.6 331.6 1564.1 329.9 1564.5 332.3 1565.0 331.9 1565.5 332.2 1565.9 328.1 1566.4 333.2 1566.9 328.8 1567.3 329.4 1567.8 323.8 1568.4 329.6 1569.0 332.4 1569.6 334.2 1570.1 337.8 1570.6 335.5 1571.1 337.6 1571.6 337.8 1572.1 338.2 1572.6 338.8 1573.1 336.8 1573.6 340.8 1574.1 336.7 1574.6 337.5 1575.1 339.8 1575.6 339.8 1576.1 341.1 1576.6 345.5 1577.1 341.8 1577.6 343.5 1578.1 342.5 1578.6 346.4 1579.1 351.3 1579.6 346.9 1580.1 352.0 1580.7 353.3 1581.2 359.6 1581.7 361.7 1582.1 362.2 1582.6 361.5 1583.0 362.2 1583.5 364.3 1584.0 362.8 1584.5 357.6 1584.9 350.0 1585.4 352.7 1586.0 353.3 1586.6 365.7 1587.2 364.3 1587.7 363.1 1588.1 368.1 1588.6 366.0 1589.0 366.9 1589.5 366.6 1590.1 355.4 1590.6 353.8 1591.2 345.7 1591.8 337.3 1592.3 327.2 1592.8 326.5 1593.2 329.4 1593.7 328.4 1594.2 331.9 1594.7 336.0 1595.1 336.7 1595.6 336.7 1596.0 337.4 1596.5 338.8 1597.0 332.6 1597.4 328.5 1597.9 317.1 1598.3 312.2 1598.8 308.7 1599.3 305.1 1599.9 297.1 1600.4 301.8 1600.9 290.1 1601.4 282.3 1602.0 273.5 1602.6 269.1 1603.1 273.1 1603.6 275.1 1604.2 269.5 1604.8 264.3 1605.4 273.1 1606.0 275.1 1606.6 277.3 1607.2 269.1 1607.8 270.5 1608.4 271.5 1609.0 264.4 1609.6 261.9 1610.0 265.3 1610.5 263.0 1611.0 267.1 1611.4 266.7 1612.0 267.2 1612.6 269.1 1613.0 259.1 1613.5 253.5 1614.0 253.2 1614.5 259.1 1615.0 265.5 1615.5 263.4 1615.9 255.9 1616.4 253.1 1617.0 260.3 1617.5 261.9 1618.1 256.5 1618.7 259.8 1619.3 255.9 1619.9 260.5 1620.5 261.1 1621.1 261.9 1621.9 257.1 1622.4 267.1 1623.0 276.4 1623.5 283.6 1624.1 277.1 1624.7 272.7 1625.3 283.0 1625.8 279.9 1626.2 271.1 1626.7 269.1 1627.3 272.0 1627.9 263.1 1628.4 257.9 1628.9 252.8 1629.5 256.2 1630.1 261.9 1630.6 265.6 1631.0 264.7 1631.5 266.7 1632.2 264.9 1632.8 261.9 1633.3 264.8 1633.8 266.2 1634.3 266.7 1634.9 267.7 1635.5 274.1 1636.1 273.9 1636.6 280.7 1637.1 279.6 1637.6 281.7 1638.2 278.1 1638.8 273.9 1639.3 270.7 1639.8 271.3 1640.3 261.9 1640.8 256.5 1641.4 262.6 1641.9 259.5 1642.4 263.3 1642.8 260.9 1643.3 263.1 1643.8 261.5 1644.3 260.7 1644.8 260.1 1645.3 263.4 1645.8 266.2 1646.2 266.5 1646.7 269.1 1647.2 266.7 1647.7 268.1 1648.2 265.5 1648.8 267.7 1649.4 272.7 1650.0 269.0 1650.6 268.5 1651.2 269.1 1651.8 269.4 1652.4 266.9 1653.0 265.5 1653.6 262.0 1654.2 261.9 1654.8 259.5 1655.6 243.8 1656.4 252.2 1657.3 236.6 1657.8 247.4 1658.2 259.5 1659.0 278.1 1659.6 273.2 1660.2 272.7 1660.8 257.4 1661.4 248.6 1662.0 240.9 1662.6 240.6 1663.2 237.8 1663.8 242.0 1664.4 248.6 1664.9 252.9 1665.5 250.4 1666.0 255.9 1666.8 234.2 1667.4 237.8 1668.0 235.4 1668.5 232.6 1669.1 227.8 1669.6 224.6 1670.2 230.6 1670.8 237.8 1671.4 227.2 1672.0 212.5 1672.6 209.3 1673.2 205.3 1673.8 199.7 1674.4 187.8 1675.3 198.1 1675.9 193.8 1676.5 189.6 1677.1 194.6 1677.7 194.4 1678.3 193.3 1678.9 188.4 1679.4 188.1 1679.9 192.9 1680.4 195.7 1680.9 194.4 1681.4 190.6 1681.9 193.2 1682.8 207.7 1683.4 218.6 1684.0 218.5 1684.5 220.2 1684.9 228.2 1685.5 224.4 1686.1 218.5 1686.6 223.1 1687.2 216.4 1687.7 211.9 1688.2 212.3 1688.6 212.1 1689.1 214.9 1689.6 217.8 1690.0 223.7 1690.5 227.0 1691.0 224.6 1691.5 222.1 1692.0 225.6 1692.5 227.1 1693.0 233.6 1693.5 228.8 1694.0 229.0 1694.5 224.6 1695.1 218.5 1695.7 210.1 1696.2 211.4 1696.8 206.4 1697.3 203.9 1697.8 203.5 1698.3 203.1 1698.8 202.2 1699.3 207.7 1699.9 212.8 1700.5 211.3 1701.1 216.9 1701.7 219.7 1702.2 220.0 1702.8 212.5 1703.3 205.9 1703.9 205.1 1704.4 204.5 1705.0 201.7 1705.5 203.4 1706.0 210.1 1706.6 211.3 1707.2 216.1 1707.8 213.5 1708.4 215.2 1709.0 213.7 1709.5 220.8 1710.0 227.3 1710.5 230.6 1711.0 228.3 1711.5 226.2 1712.0 224.6 1712.6 219.5 1713.2 220.9 1713.8 219.1 1714.4 215.5 1714.9 222.9 1715.4 228.2 1716.0 231.6 1716.6 239.0 1717.2 244.2 1717.8 251.0 1718.4 247.3 1719.0 241.4 1719.5 243.8 1719.9 241.8 1720.4 247.4 1720.9 247.6 1721.4 254.1 1721.9 260.7 1722.4 264.9 1722.9 265.0 1723.4 267.9 1724.0 267.3 1724.6 266.6 1725.2 263.1 1725.8 256.7 1726.4 252.5 1727.0 254.1 1727.5 255.0 1728.1 253.1 1728.6 254.7 1729.1 253.8 1729.6 258.9 1730.1 260.2 1730.6 260.7 1731.1 254.1 1731.7 256.1 1732.2 249.8 1732.7 246.8 1733.2 240.3 1733.7 245.6 1734.3 251.1 1734.9 246.7 1735.5 252.2 1736.0 253.7 1736.5 262.3 1737.0 261.9 1737.5 252.4 1738.0 251.2 1738.5 247.4 1739.1 246.8 1739.7 236.6 1740.2 239.7 1740.6 243.5 1741.1 247.4 1741.6 244.0 1742.2 237.8 1742.7 235.4 1743.2 238.0 1743.8 241.9 1744.3 245.0 1744.8 240.5 1745.3 243.1 1745.8 241.7 1746.3 243.8 1746.9 247.9 1747.5 247.3 1748.1 249.8 1748.5 249.3 1749.0 258.0 1749.5 256.3 1749.9 253.5 1750.5 257.1 1751.1 255.0 1751.7 254.1 1752.3 248.0 1752.9 245.0 1753.4 249.6 1753.9 257.1 1754.7 295.6 1755.3 287.6 1755.9 279.9 1756.5 277.7 1757.1 272.5 1757.7 264.3 1758.2 259.7 1758.7 258.1 1759.2 249.8 1759.7 252.0 1760.2 257.8 1760.7 257.1 1761.2 252.9 1761.7 253.0 1762.1 253.5 1762.6 251.0 1763.0 250.3 1763.5 245.3 1764.0 244.0 1764.4 245.6 1765.0 242.0 1765.6 242.4 1766.2 242.6 1766.7 242.8 1767.2 245.2 1767.6 245.5 1768.1 250.1 1768.6 248.6 1769.1 247.5 1769.6 241.5 1770.0 243.4 1770.5 244.8 1771.0 237.8 1771.5 242.1 1772.0 242.2 1772.6 246.8 1773.1 245.0 1773.5 247.3 1774.0 240.2 1774.8 225.8 1775.4 219.4 1776.0 216.1 1776.6 209.3 1777.2 201.1 1777.7 201.2 1778.2 206.5 1778.7 207.9 1779.2 209.6 1779.7 210.7" fill="none" stroke="#111113" stroke-width="1.7" stroke-linejoin="round" stroke-linecap="round"/>
<line x1="123.5" y1="151" x2="123.5" y2="983" stroke="#4f39e2" stroke-width="3" stroke-linecap="round"/>
<line x1="1792.7" y1="150" x2="1792.7" y2="983.5" stroke="#141416" stroke-width="2.2"/>
<rect x="41" y="922" width="82" height="39.5" fill="#4f39e2"/>
<text x="56.76" y="950.7" font-size="24.6" fill="#ffffff" textLength="61.61" lengthAdjust="spacingAndGlyphs" stroke="#ffffff" stroke-width="0.3">1.15M</text>
<rect x="1793" y="187.5" width="106" height="40" fill="#141416"/>
<text x="1799.50" y="215.9" font-size="24.6" fill="#ffffff" textLength="86.61" lengthAdjust="spacingAndGlyphs" stroke="#ffffff" stroke-width="0.3">$109.2K</text>
<text x="1632.26" y="1052.5" font-size="16.8" fill="#76767c" textLength="241.26" lengthAdjust="spacingAndGlyphs">© CryptoQuant. All rights reserved</text>
</svg></body></html>
